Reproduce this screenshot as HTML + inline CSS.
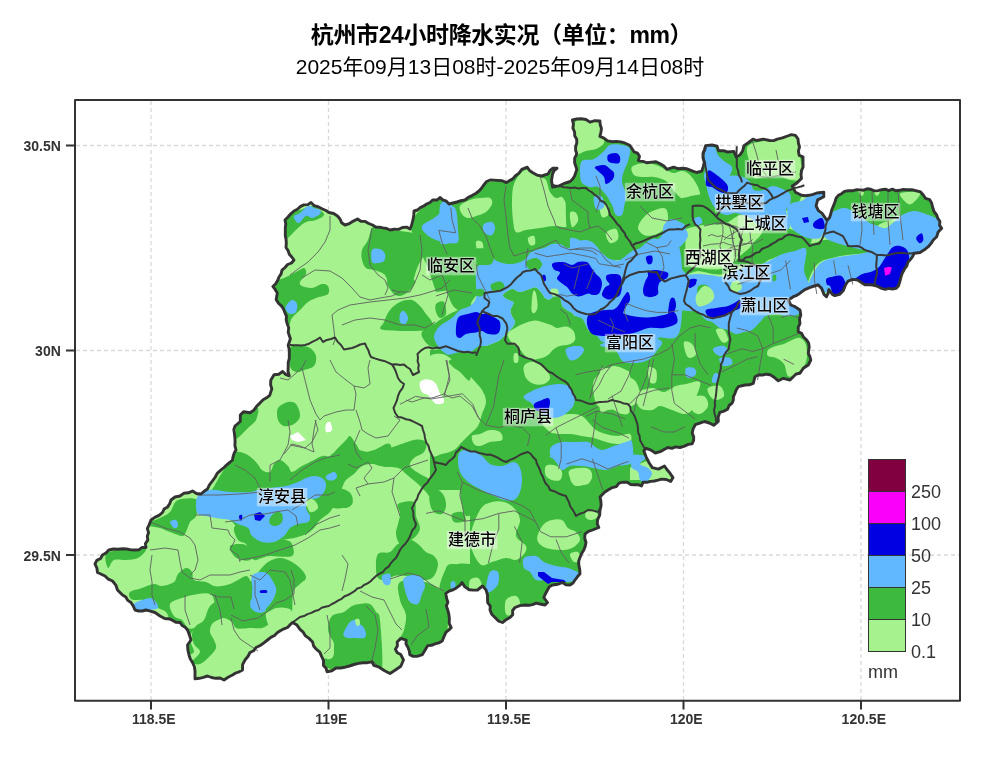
<!DOCTYPE html>
<html><head><meta charset="utf-8"><style>
html,body{margin:0;padding:0;background:#fff;}
body{width:1000px;height:781px;position:relative;overflow:hidden;}
.t1{position:absolute;left:0;width:1000px;text-align:center;top:19.5px;font:bold 23px/30px "Liberation Sans","Noto Sans CJK SC",sans-serif;color:#000;letter-spacing:-0.4px;margin-left:1.5px;}
.t2{position:absolute;left:0;width:1000px;text-align:center;top:53.5px;font:21px/26px "Liberation Sans","Noto Sans CJK SC",sans-serif;color:#000;}
.lb{position:absolute;width:100px;text-align:center;font:500 16px/20px "Liberation Sans","Noto Sans CJK SC",sans-serif;color:#000;}
.lb span{display:inline-block;line-height:17px;padding:0 0.5px 1px;background:rgba(255,255,255,.42);box-shadow:0 0 1.5px 0.5px rgba(255,255,255,.42);text-shadow:0 0 1px #fff,0 0 2px rgba(255,255,255,.9);}
</style></head><body>
<svg width="1000" height="781" viewBox="0 0 1000 781" style="position:absolute;left:0;top:0">
<defs><clipPath id="cl"><path d="M95 564 L96.8 560.4 L100.6 558.5 L102.5 555 L106 553 L108.8 550 L113.3 549 L117.9 549.2 L122.5 548.8 L126.7 549 L130.8 549.9 L135 550 L138.8 549.8 L142.1 547.4 L146 547.5 L145.4 543.6 L147.8 540.1 L147.3 536.2 L148.6 532.6 L147.3 528.6 L149 525 L151 520 L154.8 517.4 L159 515.4 L162.5 512.5 L164.1 509 L167.6 506.9 L169.7 503.7 L171 500 L175 497 L180 496 L183.7 493.3 L188.4 492.8 L192.5 491 L196.4 493.5 L201 494 L204.1 491.3 L207.5 489 L209.4 484.8 L212.3 481.2 L215 477.5 L217.2 473.4 L220.5 470.4 L224 467.5 L226.7 464.9 L229.7 462.5 L232.5 460 L233.1 456.5 L234.2 453.1 L236 450 L234.9 445.7 L235.1 441.3 L234.8 437 L234.4 433.3 L233.8 429.6 L235 426 L240.3 421.5 L240.3 415 L243.5 411.7 L250.1 412.8 L253.9 410.1 L256.6 406.3 L259.9 403.1 L263.1 399.7 L266.6 397.8 L269.7 395.4 L271.8 388.9 L270.6 384.6 L270.8 380.2 L274 374.7 L278.8 374.2 L282.7 371.4 L285.5 374.3 L289.3 375.8 L288 371.5 L288.2 367.1 L288.2 362.7 L289.3 358.4 L289.3 354 L289.3 349.6 L288.2 345.3 L290.4 338.8 L288.2 332.3 L288.7 327.8 L287.1 323.5 L286.2 319.9 L286.4 316.1 L284.9 312.7 L283.6 309.2 L281.6 306.1 L278.5 303.2 L276.2 299.6 L277.3 293.1 L275.3 289.7 L272.9 286.5 L275.7 283.8 L277.6 280.6 L279 277 L281.1 273.9 L282 270.1 L285 267.5 L287.6 264.5 L291.5 263 L294 260 L291.8 257 L289.3 254.2 L288.1 250.6 L286 247.5 L286.3 243.6 L286.1 239.6 L285.3 235.7 L285.3 231.8 L285.3 227.9 L285.8 223.9 L285 220 L288 217 L290.8 213.8 L294 211 L297.4 209.3 L300.3 206.6 L303.7 204.9 L307.8 204.6 L311 202.5 L314.3 205.7 L318.6 207 L322.5 209 L325.9 210.5 L329 212.5 L333.6 213.5 L337.5 216 L340 219 L341.6 222.7 L345 225 L349.4 223.6 L353.4 221.1 L357.5 219 L360.9 221.3 L365.2 221.4 L368.7 223.5 L372.5 225 L375.7 227 L379.4 227.2 L383 227.9 L386.7 228.5 L390 230 L394.2 229.3 L398.5 229.4 L402.5 227.5 L406.5 227.1 L410 229 L411.5 225.5 L412.4 222 L413.3 218.4 L413.8 214.7 L414 211 L417.5 210 L420.4 207.6 L423.7 206 L426.7 204 L430 202.5 L432.9 199.9 L437.1 200 L440 197.5 L442.9 199.8 L446.4 201.2 L449 204 L453 203 L457 202 L460.9 200.7 L465 200 L468.3 197.4 L472 195.6 L475.7 193.5 L479 191 L481.7 188 L484 184.6 L486.6 181.5 L490.2 180 L493.9 180.1 L497.6 180.4 L502.2 180.7 L506.4 182.6 L509.5 180.6 L512.8 178.9 L515.2 176 L519 173.2 L521.8 169.4 L527.3 167.2 L529.5 170.5 L532.8 172.7 L536.9 175.1 L541.6 176 L548.2 173.8 L549.9 170.7 L552.6 168.3 L557 168.3 L554.2 170.5 L552.6 173.8 L551.5 180.4 L552.6 187 L559.2 185.9 L563.6 183.7 L570.2 181.5 L572.7 179 L574.6 176 L576.8 169.4 L574.6 162.8 L574.7 158.2 L576.8 154 L575.6 150.3 L575.6 146.7 L576.8 143 L576.7 139.2 L574.7 135.8 L574.6 132 L572.9 128.1 L573.4 123.9 L572.4 119.9 L576.8 119 L581.2 118.8 L586 119.5 L590 122.1 L594.9 120.7 L599.9 121 L600.2 124.7 L601.4 128.3 L601 132 L599.9 136.4 L604 138.1 L607.6 140.8 L612 141.7 L616.4 141.4 L620.8 141.9 L625.3 143.2 L629.6 145.2 L631.9 148.5 L634 151.8 L637.5 153.1 L639.5 156.2 L638.4 160.6 L642.9 161.4 L647.2 162.8 L651.6 162.1 L656 161.7 L660.1 163.7 L663.9 166.1 L667 169.4 L673.6 167.2 L677.9 168.7 L682.4 168.3 L686.4 168.7 L692.8 171.2 L696.6 172.5 L701.8 171.2 L703.1 166.8 L704.3 162.3 L703 157.9 L703 153.3 L704.5 149.5 L705.6 145.6 L712 145 L717.1 146.2 L718.4 150.7 L723.5 150.7 L727.4 152 L733.8 151.4 L736.3 157.1 L740.2 154.6 L742.7 150.7 L744 145.6 L747.9 143 L753 139.2 L756.8 140.5 L763.2 139.2 L769.6 140.5 L773.6 140.6 L777.3 139.2 L782.4 137.9 L787.6 136 L791.4 134.6 L795.4 135.4 L798 138.8 L798.4 143 L799.5 147 L798.4 151.2 L799.2 155.3 L803 156.9 L803 163 L803.1 167 L801.5 170.7 L801 174.6 L801.5 178.4 L796.9 183 L792.3 186 L795.4 192.2 L801.5 195.3 L805.4 195.7 L809.2 195.3 L813.1 194.3 L816.9 193 L823.8 192.2 L823.8 196.8 L817.6 199.9 L816.1 206 L818.4 210.6 L821.9 213.2 L824.5 216.8 L827 220.5 L829.6 217.5 L830.8 213.8 L831.7 210 L833.4 205.9 L835 201.7 L836.1 198.2 L838.4 195.3 L841.6 193.7 L844.5 191.4 L848.3 190.8 L852.2 190.8 L856 189.8 L859.9 189.9 L863.5 190.2 L867.2 188.8 L870.8 189.3 L874.4 190.9 L878.1 190.6 L881.7 189.7 L885.3 189.2 L888.8 190.6 L892.4 189.2 L896 190.8 L899.6 190.3 L903.1 189.5 L906.7 189.7 L911.8 189.7 L916.7 190.8 L920.6 191.9 L923.3 195 L925.5 198.4 L929.7 199.7 L931.7 203.3 L932.7 207.5 L934 211.5 L936.7 215 L937.8 218.4 L939.9 221.4 L939.6 225.3 L941.7 228.3 L938.2 231.9 L936.7 236.7 L933.5 239.7 L931.1 243.4 L928.3 246.7 L924.3 249.8 L920 252.5 L914.2 253.3 L912.4 256.8 L910 260 L908 262 L906.8 265.9 L904.4 269.2 L902.2 273.2 L900.8 277.6 L899.8 281.8 L898.4 286 L896 288.4 L892.4 289.1 L888.8 288.4 L885.2 289.3 L881.6 288.4 L876.8 286 L873.3 285 L869.6 284.8 L864.8 284.8 L861.2 282.4 L857.6 280 L852.8 279.4 L848 281.2 L845.6 284.8 L843.2 290.8 L839.6 294.4 L834.8 295.6 L832.4 294.4 L828.8 289.6 L828.1 293.4 L826.4 296.8 L824 294.4 L821.6 288.4 L818 284.8 L814.4 286 L810.8 287.2 L804.8 289.6 L800 293.2 L796.8 295.3 L793.3 296.7 L788.3 300 L790.8 305 L795 306.7 L800 310 L800.8 315 L799.5 319.1 L800 323.3 L798.2 327.3 L798.3 331.7 L801.6 333.4 L803.3 336.7 L806.7 340 L808.6 343.1 L809.2 346.7 L808.3 353.3 L809.9 356.5 L810.8 360 L808.3 365 L803.3 368.3 L800 373.3 L796.1 374 L793.3 376.7 L790 380 L783.3 378.3 L778.3 380.8 L773.3 376.7 L770.2 374.8 L766.7 374.2 L762.5 375 L758.3 375 L755 376.7 L753.3 383.3 L749.3 384.8 L745 385 L738.3 386.7 L736.3 389.8 L735 393.3 L733.4 396.6 L733.3 400.2 L732.2 403 L729.1 405.5 L727.6 409.2 L723.9 411.1 L719.9 412.3 L718.2 416.7 L718.3 421.5 L713.7 425.3 L709.3 423 L704.5 421.5 L699.9 423.1 L695.3 424.6 L693 429.2 L692.2 433.2 L693.7 436.9 L693.6 440.5 L692.2 443.8 L688.2 444.4 L684.5 446.1 L680 447.5 L675.3 446.9 L671.9 448.4 L667.9 447.5 L664.5 449.2 L660.2 451.7 L655.3 453 L651 450.1 L646.1 448.4 L643.8 450.7 L646.1 456.8 L649.2 463 L652.3 467.6 L658.4 469.1 L664.5 466 L666.7 469.2 L669.2 472.2 L673 477.6 L670.7 481.4 L666.3 479.5 L661.5 479.1 L658 480.2 L654.4 481 L650.7 481.4 L646.9 482.3 L643 482.2 L641.5 486 L638 484.6 L634.3 484.8 L630.7 484.5 L627.2 482.3 L623 482.2 L619 483.2 L616.3 486.6 L612.3 487.6 L608.4 489.8 L604.6 492.2 L600 497 L600.9 501.3 L601.1 505.7 L600 510 L599.7 515.2 L597.5 520 L597.3 523.9 L598.8 527.5 L592.5 530 L588.4 531.4 L585 534 L584.7 538.3 L586 542.5 L585.2 546.4 L583.8 550 L581.6 553.6 L580 557.5 L578.7 561.1 L578.8 565 L579.7 569.3 L580 573.8 L577.4 576.8 L575 580 L573 583 L570 585 L565.9 584.7 L562.5 582.5 L557.6 584.3 L552.5 585 L549.3 586.8 L547.5 590 L545.5 593.7 L543.8 597.5 L547.5 602.5 L545 605 L540 604 L536.2 603.2 L532.5 604.6 L528.8 605.3 L525 605 L519.8 605.6 L515 607.5 L512.6 610.5 L512.7 614.7 L510 617.5 L506 619.7 L502.5 622.5 L498.2 620.8 L495 617.5 L491.7 614.3 L490 610 L490.3 606.1 L487.7 602.7 L487.5 598.9 L487.5 595 L486 589.9 L482.5 586 L477.5 590 L473.3 590.1 L469.2 589.8 L464.9 586.9 L462 582.6 L459.5 585.6 L456.4 587.9 L453 589.8 L449.1 591.1 L445.8 593.4 L446.7 598.8 L447.9 602.3 L446.3 606.1 L447.6 609.6 L448.8 614 L449.4 618.6 L449.2 623.3 L451.2 627.6 L449.4 629.4 L445.9 632.4 L444 636.6 L442.2 641 L438.8 642.9 L435 643.8 L431.5 645.3 L427.8 645.6 L425.1 650.1 L422.4 654.6 L417 656.4 L413.2 656.4 L409.8 654.6 L409.3 650.9 L408 647.4 L406 644.1 L406.2 640.2 L400.8 638.4 L397.2 642 L397.4 645.9 L395.4 649.2 L397.3 652.7 L400.8 654.6 L403.5 660 L400.8 666.3 L395.4 670 L390 673.5 L384.6 670.8 L379.2 667.2 L373.8 665.4 L372 661.8 L367.5 662.7 L363 662.7 L358.5 663.4 L354 664.5 L349.5 666 L345 667.2 L340.5 668 L336 668 L331.9 670.8 L327 671.7 L326.1 668.1 L323.4 665.4 L323.6 660.7 L321.6 656.4 L319.8 652.1 L316.2 649.2 L313.6 646 L312.6 642 L309 638.4 L305.5 635.9 L303.2 632.2 L300 629.4 L297 625.1 L292.5 622.5 L289.9 624.9 L287.5 627.5 L284 628.8 L280.7 630.5 L277.5 632.5 L274.5 635.5 L270.8 637.4 L267.5 640 L263.9 642.9 L260.2 645.5 L256 647.5 L253.6 650.8 L250 652.5 L247.9 656.5 L245 660 L242.6 664.7 L242.5 670 L239.2 671.8 L235.7 673 L232.5 675 L228.1 677.2 L224 680 L220.1 678 L215.7 678.3 L211.5 677.5 L207.5 676 L203.4 677.3 L199.3 678.3 L195 678.8 L195 675 L195 670.7 L194.3 666.5 L192.5 662.5 L190.3 659 L189 655 L187.9 650.1 L187.5 645 L191 640 L189.9 636.6 L188.8 633.3 L187.5 630 L185.2 627.3 L182.1 625.4 L180 622.5 L176.3 622.4 L173.1 620.7 L170 619 L164.7 618.5 L160 616 L155 612.5 L150.5 611.1 L146 610 L142.3 611 L138.7 611 L135 610 L133.3 606.1 L131 602.5 L127.8 600.4 L125.8 597 L122.5 595 L120 592.5 L117.5 590 L115.8 585.1 L112.5 581 L108.3 579.2 L105 576 L101.3 574.2 L97.5 572.5 L96.9 568.1Z"/></clipPath></defs>
<path d="M151 101V700 M328.5 101V700 M506 101V700 M683.5 101V700 M861 101V700 M76 145.5H959 M76 350.5H959 M76 555H959" stroke="#d9d9d9" stroke-width="1.3" stroke-dasharray="4 3" fill="none"/>
<path d="M95 564 L96.8 560.4 L100.6 558.5 L102.5 555 L106 553 L108.8 550 L113.3 549 L117.9 549.2 L122.5 548.8 L126.7 549 L130.8 549.9 L135 550 L138.8 549.8 L142.1 547.4 L146 547.5 L145.4 543.6 L147.8 540.1 L147.3 536.2 L148.6 532.6 L147.3 528.6 L149 525 L151 520 L154.8 517.4 L159 515.4 L162.5 512.5 L164.1 509 L167.6 506.9 L169.7 503.7 L171 500 L175 497 L180 496 L183.7 493.3 L188.4 492.8 L192.5 491 L196.4 493.5 L201 494 L204.1 491.3 L207.5 489 L209.4 484.8 L212.3 481.2 L215 477.5 L217.2 473.4 L220.5 470.4 L224 467.5 L226.7 464.9 L229.7 462.5 L232.5 460 L233.1 456.5 L234.2 453.1 L236 450 L234.9 445.7 L235.1 441.3 L234.8 437 L234.4 433.3 L233.8 429.6 L235 426 L240.3 421.5 L240.3 415 L243.5 411.7 L250.1 412.8 L253.9 410.1 L256.6 406.3 L259.9 403.1 L263.1 399.7 L266.6 397.8 L269.7 395.4 L271.8 388.9 L270.6 384.6 L270.8 380.2 L274 374.7 L278.8 374.2 L282.7 371.4 L285.5 374.3 L289.3 375.8 L288 371.5 L288.2 367.1 L288.2 362.7 L289.3 358.4 L289.3 354 L289.3 349.6 L288.2 345.3 L290.4 338.8 L288.2 332.3 L288.7 327.8 L287.1 323.5 L286.2 319.9 L286.4 316.1 L284.9 312.7 L283.6 309.2 L281.6 306.1 L278.5 303.2 L276.2 299.6 L277.3 293.1 L275.3 289.7 L272.9 286.5 L275.7 283.8 L277.6 280.6 L279 277 L281.1 273.9 L282 270.1 L285 267.5 L287.6 264.5 L291.5 263 L294 260 L291.8 257 L289.3 254.2 L288.1 250.6 L286 247.5 L286.3 243.6 L286.1 239.6 L285.3 235.7 L285.3 231.8 L285.3 227.9 L285.8 223.9 L285 220 L288 217 L290.8 213.8 L294 211 L297.4 209.3 L300.3 206.6 L303.7 204.9 L307.8 204.6 L311 202.5 L314.3 205.7 L318.6 207 L322.5 209 L325.9 210.5 L329 212.5 L333.6 213.5 L337.5 216 L340 219 L341.6 222.7 L345 225 L349.4 223.6 L353.4 221.1 L357.5 219 L360.9 221.3 L365.2 221.4 L368.7 223.5 L372.5 225 L375.7 227 L379.4 227.2 L383 227.9 L386.7 228.5 L390 230 L394.2 229.3 L398.5 229.4 L402.5 227.5 L406.5 227.1 L410 229 L411.5 225.5 L412.4 222 L413.3 218.4 L413.8 214.7 L414 211 L417.5 210 L420.4 207.6 L423.7 206 L426.7 204 L430 202.5 L432.9 199.9 L437.1 200 L440 197.5 L442.9 199.8 L446.4 201.2 L449 204 L453 203 L457 202 L460.9 200.7 L465 200 L468.3 197.4 L472 195.6 L475.7 193.5 L479 191 L481.7 188 L484 184.6 L486.6 181.5 L490.2 180 L493.9 180.1 L497.6 180.4 L502.2 180.7 L506.4 182.6 L509.5 180.6 L512.8 178.9 L515.2 176 L519 173.2 L521.8 169.4 L527.3 167.2 L529.5 170.5 L532.8 172.7 L536.9 175.1 L541.6 176 L548.2 173.8 L549.9 170.7 L552.6 168.3 L557 168.3 L554.2 170.5 L552.6 173.8 L551.5 180.4 L552.6 187 L559.2 185.9 L563.6 183.7 L570.2 181.5 L572.7 179 L574.6 176 L576.8 169.4 L574.6 162.8 L574.7 158.2 L576.8 154 L575.6 150.3 L575.6 146.7 L576.8 143 L576.7 139.2 L574.7 135.8 L574.6 132 L572.9 128.1 L573.4 123.9 L572.4 119.9 L576.8 119 L581.2 118.8 L586 119.5 L590 122.1 L594.9 120.7 L599.9 121 L600.2 124.7 L601.4 128.3 L601 132 L599.9 136.4 L604 138.1 L607.6 140.8 L612 141.7 L616.4 141.4 L620.8 141.9 L625.3 143.2 L629.6 145.2 L631.9 148.5 L634 151.8 L637.5 153.1 L639.5 156.2 L638.4 160.6 L642.9 161.4 L647.2 162.8 L651.6 162.1 L656 161.7 L660.1 163.7 L663.9 166.1 L667 169.4 L673.6 167.2 L677.9 168.7 L682.4 168.3 L686.4 168.7 L692.8 171.2 L696.6 172.5 L701.8 171.2 L703.1 166.8 L704.3 162.3 L703 157.9 L703 153.3 L704.5 149.5 L705.6 145.6 L712 145 L717.1 146.2 L718.4 150.7 L723.5 150.7 L727.4 152 L733.8 151.4 L736.3 157.1 L740.2 154.6 L742.7 150.7 L744 145.6 L747.9 143 L753 139.2 L756.8 140.5 L763.2 139.2 L769.6 140.5 L773.6 140.6 L777.3 139.2 L782.4 137.9 L787.6 136 L791.4 134.6 L795.4 135.4 L798 138.8 L798.4 143 L799.5 147 L798.4 151.2 L799.2 155.3 L803 156.9 L803 163 L803.1 167 L801.5 170.7 L801 174.6 L801.5 178.4 L796.9 183 L792.3 186 L795.4 192.2 L801.5 195.3 L805.4 195.7 L809.2 195.3 L813.1 194.3 L816.9 193 L823.8 192.2 L823.8 196.8 L817.6 199.9 L816.1 206 L818.4 210.6 L821.9 213.2 L824.5 216.8 L827 220.5 L829.6 217.5 L830.8 213.8 L831.7 210 L833.4 205.9 L835 201.7 L836.1 198.2 L838.4 195.3 L841.6 193.7 L844.5 191.4 L848.3 190.8 L852.2 190.8 L856 189.8 L859.9 189.9 L863.5 190.2 L867.2 188.8 L870.8 189.3 L874.4 190.9 L878.1 190.6 L881.7 189.7 L885.3 189.2 L888.8 190.6 L892.4 189.2 L896 190.8 L899.6 190.3 L903.1 189.5 L906.7 189.7 L911.8 189.7 L916.7 190.8 L920.6 191.9 L923.3 195 L925.5 198.4 L929.7 199.7 L931.7 203.3 L932.7 207.5 L934 211.5 L936.7 215 L937.8 218.4 L939.9 221.4 L939.6 225.3 L941.7 228.3 L938.2 231.9 L936.7 236.7 L933.5 239.7 L931.1 243.4 L928.3 246.7 L924.3 249.8 L920 252.5 L914.2 253.3 L912.4 256.8 L910 260 L908 262 L906.8 265.9 L904.4 269.2 L902.2 273.2 L900.8 277.6 L899.8 281.8 L898.4 286 L896 288.4 L892.4 289.1 L888.8 288.4 L885.2 289.3 L881.6 288.4 L876.8 286 L873.3 285 L869.6 284.8 L864.8 284.8 L861.2 282.4 L857.6 280 L852.8 279.4 L848 281.2 L845.6 284.8 L843.2 290.8 L839.6 294.4 L834.8 295.6 L832.4 294.4 L828.8 289.6 L828.1 293.4 L826.4 296.8 L824 294.4 L821.6 288.4 L818 284.8 L814.4 286 L810.8 287.2 L804.8 289.6 L800 293.2 L796.8 295.3 L793.3 296.7 L788.3 300 L790.8 305 L795 306.7 L800 310 L800.8 315 L799.5 319.1 L800 323.3 L798.2 327.3 L798.3 331.7 L801.6 333.4 L803.3 336.7 L806.7 340 L808.6 343.1 L809.2 346.7 L808.3 353.3 L809.9 356.5 L810.8 360 L808.3 365 L803.3 368.3 L800 373.3 L796.1 374 L793.3 376.7 L790 380 L783.3 378.3 L778.3 380.8 L773.3 376.7 L770.2 374.8 L766.7 374.2 L762.5 375 L758.3 375 L755 376.7 L753.3 383.3 L749.3 384.8 L745 385 L738.3 386.7 L736.3 389.8 L735 393.3 L733.4 396.6 L733.3 400.2 L732.2 403 L729.1 405.5 L727.6 409.2 L723.9 411.1 L719.9 412.3 L718.2 416.7 L718.3 421.5 L713.7 425.3 L709.3 423 L704.5 421.5 L699.9 423.1 L695.3 424.6 L693 429.2 L692.2 433.2 L693.7 436.9 L693.6 440.5 L692.2 443.8 L688.2 444.4 L684.5 446.1 L680 447.5 L675.3 446.9 L671.9 448.4 L667.9 447.5 L664.5 449.2 L660.2 451.7 L655.3 453 L651 450.1 L646.1 448.4 L643.8 450.7 L646.1 456.8 L649.2 463 L652.3 467.6 L658.4 469.1 L664.5 466 L666.7 469.2 L669.2 472.2 L673 477.6 L670.7 481.4 L666.3 479.5 L661.5 479.1 L658 480.2 L654.4 481 L650.7 481.4 L646.9 482.3 L643 482.2 L641.5 486 L638 484.6 L634.3 484.8 L630.7 484.5 L627.2 482.3 L623 482.2 L619 483.2 L616.3 486.6 L612.3 487.6 L608.4 489.8 L604.6 492.2 L600 497 L600.9 501.3 L601.1 505.7 L600 510 L599.7 515.2 L597.5 520 L597.3 523.9 L598.8 527.5 L592.5 530 L588.4 531.4 L585 534 L584.7 538.3 L586 542.5 L585.2 546.4 L583.8 550 L581.6 553.6 L580 557.5 L578.7 561.1 L578.8 565 L579.7 569.3 L580 573.8 L577.4 576.8 L575 580 L573 583 L570 585 L565.9 584.7 L562.5 582.5 L557.6 584.3 L552.5 585 L549.3 586.8 L547.5 590 L545.5 593.7 L543.8 597.5 L547.5 602.5 L545 605 L540 604 L536.2 603.2 L532.5 604.6 L528.8 605.3 L525 605 L519.8 605.6 L515 607.5 L512.6 610.5 L512.7 614.7 L510 617.5 L506 619.7 L502.5 622.5 L498.2 620.8 L495 617.5 L491.7 614.3 L490 610 L490.3 606.1 L487.7 602.7 L487.5 598.9 L487.5 595 L486 589.9 L482.5 586 L477.5 590 L473.3 590.1 L469.2 589.8 L464.9 586.9 L462 582.6 L459.5 585.6 L456.4 587.9 L453 589.8 L449.1 591.1 L445.8 593.4 L446.7 598.8 L447.9 602.3 L446.3 606.1 L447.6 609.6 L448.8 614 L449.4 618.6 L449.2 623.3 L451.2 627.6 L449.4 629.4 L445.9 632.4 L444 636.6 L442.2 641 L438.8 642.9 L435 643.8 L431.5 645.3 L427.8 645.6 L425.1 650.1 L422.4 654.6 L417 656.4 L413.2 656.4 L409.8 654.6 L409.3 650.9 L408 647.4 L406 644.1 L406.2 640.2 L400.8 638.4 L397.2 642 L397.4 645.9 L395.4 649.2 L397.3 652.7 L400.8 654.6 L403.5 660 L400.8 666.3 L395.4 670 L390 673.5 L384.6 670.8 L379.2 667.2 L373.8 665.4 L372 661.8 L367.5 662.7 L363 662.7 L358.5 663.4 L354 664.5 L349.5 666 L345 667.2 L340.5 668 L336 668 L331.9 670.8 L327 671.7 L326.1 668.1 L323.4 665.4 L323.6 660.7 L321.6 656.4 L319.8 652.1 L316.2 649.2 L313.6 646 L312.6 642 L309 638.4 L305.5 635.9 L303.2 632.2 L300 629.4 L297 625.1 L292.5 622.5 L289.9 624.9 L287.5 627.5 L284 628.8 L280.7 630.5 L277.5 632.5 L274.5 635.5 L270.8 637.4 L267.5 640 L263.9 642.9 L260.2 645.5 L256 647.5 L253.6 650.8 L250 652.5 L247.9 656.5 L245 660 L242.6 664.7 L242.5 670 L239.2 671.8 L235.7 673 L232.5 675 L228.1 677.2 L224 680 L220.1 678 L215.7 678.3 L211.5 677.5 L207.5 676 L203.4 677.3 L199.3 678.3 L195 678.8 L195 675 L195 670.7 L194.3 666.5 L192.5 662.5 L190.3 659 L189 655 L187.9 650.1 L187.5 645 L191 640 L189.9 636.6 L188.8 633.3 L187.5 630 L185.2 627.3 L182.1 625.4 L180 622.5 L176.3 622.4 L173.1 620.7 L170 619 L164.7 618.5 L160 616 L155 612.5 L150.5 611.1 L146 610 L142.3 611 L138.7 611 L135 610 L133.3 606.1 L131 602.5 L127.8 600.4 L125.8 597 L122.5 595 L120 592.5 L117.5 590 L115.8 585.1 L112.5 581 L108.3 579.2 L105 576 L101.3 574.2 L97.5 572.5 L96.9 568.1Z" fill="#a6f28f"/>
<g clip-path="url(#cl)">
<path d="M430 350 L500 345 L630 345 L630 490 L430 490Z" fill="#3dba3d"/>
<path d="M470 490 L600 480 L680 480 L680 620 L470 620Z" fill="#3dba3d"/>
<path d="M452 248 L480 246 L480 290 L470 304 L458 304 L450 284Z" fill="#3dba3d"/>
<path d="M424 238 L452 240 L456 262 L450 290 L436 292 L428 268 L422 255Z" fill="#3dba3d"/>
<path d="M280 218 C283.7 214.3 294.7 212 300 210 C305.3 208 308 205.3 312 206 C316 206.7 323.3 211.7 324 214 C324.7 216.3 319 218.7 316 220 C313 221.3 309 220.7 306 222 C303 223.3 300.7 225.7 298 228 C295.3 230.3 292.3 234 290 236 C287.7 238 286 240.7 284 240 C282 239.3 278.7 235.7 278 232 C277.3 228.3 276.3 221.7 280 218Z" fill="#3dba3d"/>
<path d="M362 250 C363 246.7 366.3 243.7 368 240 C369.7 236.3 370 230.2 372 228 C374 225.8 377 226.7 380 227 C383 227.3 386.7 229.3 390 230 C393.3 230.7 397 230.7 400 231 C403 231.3 405 231.5 408 232 C411 232.5 415.3 233 418 234 C420.7 235 423 234.7 424 238 C425 241.3 425 249.3 424 254 C423 258.7 419.7 262 418 266 C416.3 270 415 274.3 414 278 C413 281.7 413.3 285.7 412 288 C410.7 290.3 408.3 291.3 406 292 C403.7 292.7 400.3 292.3 398 292 C395.7 291.7 393.7 291.7 392 290 C390.3 288.3 389.3 284.7 388 282 C386.7 279.3 386.3 276 384 274 C381.7 272 377 271 374 270 C371 269 368 269.7 366 268 C364 266.3 362.7 263 362 260 C361.3 257 361 253.3 362 250Z" fill="#3dba3d"/>
<path d="M412 222 C413.3 218.3 416 213.7 420 210 C424 206.3 431.3 202.3 436 200 C440.7 197.7 443.7 196 448 196 C452.3 196 458.3 196.8 462 200 C465.7 203.2 468.7 206.7 470 215 C471.3 223.3 473 243.5 470 250 C467 256.5 457 253.3 452 254 C447 254.7 444 256 440 254 C436 252 431.3 245 428 242 C424.7 239 422.7 237.7 420 236 C417.3 234.3 413.3 234.3 412 232 C410.7 229.7 410.7 225.7 412 222Z" fill="#3dba3d"/>
<path d="M270 284 C272 280.7 279.7 280 284 278 C288.3 276 292.7 273.7 296 272 C299.3 270.3 302.3 267.7 304 268 C305.7 268.3 306.7 271.7 306 274 C305.3 276.3 300.7 280 300 282 C299.3 284 300 285 302 286 C304 287 308.7 288.3 312 288 C315.3 287.7 319.3 284.3 322 284 C324.7 283.7 327 284.3 328 286 C329 287.7 330 292 328 294 C326 296 319.3 296.7 316 298 C312.7 299.3 310.7 300 308 302 C305.3 304 302.7 307.3 300 310 C297.3 312.7 294 315.3 292 318 C290 320.7 290.7 324.7 288 326 C285.3 327.3 278.7 330.7 276 326 C273.3 321.3 273 305 272 298 C271 291 268 287.3 270 284Z" fill="#3dba3d"/>
<path d="M384 322 C385 318.7 387.3 313.3 390 310 C392.7 306.7 396.3 303.7 400 302 C403.7 300.3 408.7 299.3 412 300 C415.3 300.7 417.7 303.7 420 306 C422.3 308.3 424 311.3 426 314 C428 316.7 431 319.3 432 322 C433 324.7 440 328.7 432 330 C424 331.3 392 331.3 384 330 C376 328.7 383 325.3 384 322Z" fill="#3dba3d"/>
<path d="M440 200 C442 186.7 447.7 197.7 452 196 C456.3 194.3 461.3 192 466 190 C470.7 188 474.3 185.7 480 184 C485.7 182.3 494.2 181.3 500 180 C505.8 178.7 510.3 178.3 515 176 C519.7 173.7 523 166.7 528 166 C533 165.3 540.3 171.3 545 172 C549.7 172.7 554.2 167.7 556 170 C557.8 172.3 553.3 184.3 556 186 C558.7 187.7 568.3 184 572 180 C575.7 176 573.3 165.3 578 162 C582.7 158.7 589.7 160.3 600 160 C610.3 159.7 633.3 145 640 160 C646.7 175 646.7 234 640 250 C633.3 266 613.3 256 600 256 C586.7 256 576.7 249 560 250 C543.3 251 515 258.3 500 262 C485 265.7 480 269.7 470 272 C460 274.3 445 288 440 276 C435 264 438 213.3 440 200Z" fill="#3dba3d"/>
<path d="M514 184 C515.7 179.3 519.3 174.3 522 172 C524.7 169.7 527 169.2 530 170 C533 170.8 537.3 175.3 540 177 C542.7 178.7 544.3 177.5 546 180 C547.7 182.5 548.3 189 550 192 C551.7 195 554 197.2 556 198 C558 198.8 560 195.7 562 197 C564 198.3 565.3 202.8 568 206 C570.7 209.2 576.7 212.8 578 216 C579.3 219.2 578 223.2 576 225 C574 226.8 569.7 226.8 566 227 C562.3 227.2 558.3 225.8 554 226 C549.7 226.2 544.7 227.3 540 228 C535.3 228.7 530 229.3 526 230 C522 230.7 518.2 233.7 516 232 C513.8 230.3 513.7 225.3 513 220 C512.3 214.7 511.8 206 512 200 C512.2 194 512.3 188.7 514 184Z" fill="#a6f28f"/>
<path d="M460 206 C461.3 203.7 466.7 201.3 470 200 C473.3 198.7 476.7 198.3 480 198 C483.3 197.7 488 197 490 198 C492 199 492.7 201.7 492 204 C491.3 206.3 488.7 210 486 212 C483.3 214 479 215 476 216 C473 217 470.3 218.3 468 218 C465.7 217.7 463.3 216 462 214 C460.7 212 458.7 208.3 460 206Z" fill="#a6f28f"/>
<path d="M476 242 C476.7 240.3 480.8 240.7 482 242 C483.2 243.3 483.7 248.3 483 250 C482.3 251.7 479.2 253.3 478 252 C476.8 250.7 475.3 243.7 476 242Z" fill="#a6f28f"/>
<path d="M528 238 C528.7 236.5 532.8 235 534 236 C535.2 237 535.7 242.5 535 244 C534.3 245.5 531.2 246 530 245 C528.8 244 527.3 239.5 528 238Z" fill="#a6f28f"/>
<path d="M598 208 C599 206.3 604.3 205 606 206 C607.7 207 609 212.3 608 214 C607 215.7 601.7 217 600 216 C598.3 215 597 209.7 598 208Z" fill="#a6f28f"/>
<path d="M606 228 C607.3 225.7 613.7 224.7 616 226 C618.3 227.3 620 233.3 620 236 C620 238.7 618 241.3 616 242 C614 242.7 609.7 242.3 608 240 C606.3 237.7 604.7 230.3 606 228Z" fill="#a6f28f"/>
<path d="M572 118 C577.3 96 590.7 114.3 602 118 C613.3 121.7 623.7 135.5 640 140 C656.3 144.5 673.3 145.8 700 145 C726.7 144.2 783.3 125.8 800 135 C816.7 144.2 806.7 186.7 800 200 C793.3 213.3 776.7 212.5 760 215 C743.3 217.5 713.3 209.2 700 215 C686.7 220.8 693.3 242.5 680 250 C666.7 257.5 638.3 260 620 260 C601.7 260 578 273.7 570 250 C562 226.3 566.7 140 572 118Z" fill="#3dba3d"/>
<path d="M576 121 C580 117.3 595.7 120.7 600 123 C604.3 125.3 601.3 131.7 602 135 C602.7 138.3 605 140.7 604 143 C603 145.3 599 147.7 596 149 C593 150.3 589 150 586 151 C583 152 580 153 578 155 C576 157 574.3 164.7 574 163 C573.7 161.3 575.7 152 576 145 C576.3 138 572 124.7 576 121Z" fill="#a6f28f"/>
<path d="M632 167 C633.7 165 640 163.3 644 163 C648 162.7 652 163.7 656 165 C660 166.3 665 169.7 668 171 C671 172.3 671.7 173 674 173 C676.3 173 679.3 170.7 682 171 C684.7 171.3 687.3 172.3 690 175 C692.7 177.7 696.3 183 698 187 C699.7 191 701.3 196.3 700 199 C698.7 201.7 693 203 690 203 C687 203 684.7 201 682 199 C679.3 197 676.7 194 674 191 C671.3 188 669.3 183.3 666 181 C662.7 178.7 658 177.7 654 177 C650 176.3 645.3 177.3 642 177 C638.7 176.7 635.7 176.7 634 175 C632.3 173.3 630.3 169 632 167Z" fill="#a6f28f"/>
<path d="M638 227 C638.3 223.7 642.7 218 646 215 C649.3 212 654.7 210 658 209 C661.3 208 664.3 207.3 666 209 C667.7 210.7 668.3 215.7 668 219 C667.7 222.3 666.3 226.3 664 229 C661.7 231.7 657.3 234 654 235 C650.7 236 646.7 236.3 644 235 C641.3 233.7 637.7 230.3 638 227Z" fill="#a6f28f"/>
<path d="M570 213 C570.7 210.7 574.7 211.7 576 213 C577.3 214.3 578.7 218.7 578 221 C577.3 223.3 573.3 228.3 572 227 C570.7 225.7 569.3 215.3 570 213Z" fill="#a6f28f"/>
<path d="M600 207 C601 205 606.7 203.7 608 205 C609.3 206.3 609 213 608 215 C607 217 603.3 218.3 602 217 C600.7 215.7 599 209 600 207Z" fill="#a6f28f"/>
<path d="M606 233 C607 230.7 614 228 616 229 C618 230 619 236.7 618 239 C617 241.3 612 244 610 243 C608 242 605 235.3 606 233Z" fill="#a6f28f"/>
<path d="M718 157 C719 155.3 727.3 152.3 730 153 C732.7 153.7 734 158.3 734 161 C734 163.7 731.7 168.7 730 169 C728.3 169.3 726 165 724 163 C722 161 717 158.7 718 157Z" fill="#3dba3d"/>
<path d="M746 145 C750 141 762.7 142.2 770 141 C777.3 139.8 785.3 136.5 790 138 C794.7 139.5 798 144.7 798 150 C798 155.3 794.7 165.8 790 170 C785.3 174.2 775.3 173.5 770 175 C764.7 176.5 761.3 179 758 179 C754.7 179 752 177.3 750 175 C748 172.7 746.7 170 746 165 C745.3 160 742 149 746 145Z" fill="#a6f28f"/>
<path d="M686 231 C688 227 696 227.7 700 227 C704 226.3 706.3 227 710 227 C713.7 227 717.7 227 722 227 C726.3 227 732 226.3 736 227 C740 227.7 743.7 228.3 746 231 C748.3 233.7 750 239 750 243 C750 247 748.7 252.3 746 255 C743.3 257.7 738 259 734 259 C730 259 726 256 722 255 C718 254 714 253.7 710 253 C706 252.3 701.7 251.3 698 251 C694.3 250.7 690 254.3 688 251 C686 247.7 684 235 686 231Z" fill="#a6f28f"/>
<path d="M730 150 C735 141.3 748.3 140.7 760 138 C771.7 135.3 792.3 128.7 800 134 C807.7 139.3 806 159.7 806 170 C806 180.3 804.3 191 800 196 C795.7 201 788.3 199.3 780 200 C771.7 200.7 758.3 201.7 750 200 C741.7 198.3 733.3 198.3 730 190 C726.7 181.7 725 158.7 730 150Z" fill="#3dba3d"/>
<path d="M748 146 C751.3 142 762 141.7 770 140 C778 138.3 791 133.3 796 136 C801 138.7 799 149 800 156 C801 163 803.7 174 802 178 C800.3 182 793.7 180.3 790 180 C786.3 179.7 783.7 176.7 780 176 C776.3 175.3 772.3 175.7 768 176 C763.7 176.3 757 180 754 178 C751 176 751 169.3 750 164 C749 158.7 744.7 150 748 146Z" fill="#a6f28f"/>
<path d="M836 194 C850.7 190 902.7 184.7 920 188 C937.3 191.3 937.3 208.3 940 214 C942.7 219.7 942.7 221.7 936 222 C929.3 222.3 907.3 216.3 900 216 C892.7 215.7 895.3 218.7 892 220 C888.7 221.3 883.3 222.3 880 224 C876.7 225.7 875.3 230.7 872 230 C868.7 229.3 864.7 223 860 220 C855.3 217 848.7 213.3 844 212 C839.3 210.7 833.3 215 832 212 C830.7 209 821.3 198 836 194Z" fill="#3dba3d"/>
<path d="M900 194 C900.7 192 908.7 192 912 192 C915.3 192 919.7 192.3 920 194 C920.3 195.7 916 200.3 914 202 C912 203.7 910.3 205.3 908 204 C905.7 202.7 899.3 196 900 194Z" fill="#a6f28f"/>
<path d="M858 191 C858.3 190.2 863.3 190.2 864 191 C864.7 191.8 863 196 862 196 C861 196 857.7 191.8 858 191Z" fill="#a6f28f"/>
<path d="M874 191 C874.5 190.2 879.5 190.2 880 191 C880.5 191.8 878 196 877 196 C876 196 873.5 191.8 874 191Z" fill="#a6f28f"/>
<path d="M750 250 C753.3 244.7 764 241 770 238 C776 235 781.7 232.7 786 232 C790.3 231.3 792.7 232.3 796 234 C799.3 235.7 803 240.5 806 242 C809 243.5 811 243.3 814 243 C817 242.7 819.7 240.5 824 240 C828.3 239.5 835.3 239.7 840 240 C844.7 240.3 848 241.8 852 242 C856 242.2 860.7 240.7 864 241 C867.3 241.3 869.3 243.2 872 244 C874.7 244.8 878.7 245 880 246 C881.3 247 882 248.8 880 250 C878 251.2 873.5 252.2 868 253 C862.5 253.8 852.7 254.2 846.7 255 C840.7 255.8 836.5 256.8 832 258 C827.5 259.2 823.3 259.7 820 262 C816.7 264.3 814.3 268 812 272 C809.7 276 808 283.7 806 286 C804 288.3 801.3 288.7 800 286 C798.7 283.3 798.7 274.7 798 270 C797.3 265.3 798.3 260.7 796 258 C793.7 255.3 787.7 254.3 784 254 C780.3 253.7 778 254 774 256 C770 258 764 263.7 760 266 C756 268.3 751.7 272.7 750 270 C748.3 267.3 746.7 255.3 750 250Z" fill="#3dba3d"/>
<path d="M670 202 C672.3 199.7 678.1 199 684 197.8 C689.9 196.6 700 193.1 705.2 195 C710.4 196.9 711.6 206 715.1 209.1 C718.6 212.2 722.1 213.1 726.3 213.3 C730.5 213.5 735.7 210.7 740.4 210.5 C745.1 210.3 750.7 211 754.5 211.9 C758.3 212.8 760.6 216.6 763 216.1 C765.4 215.6 764.6 208.4 768.6 209.1 C772.6 209.8 783.4 217.1 786.9 220.4 C790.4 223.7 786 226.7 789.7 228.8 C793.5 230.9 806 230.4 809.4 233 C812.8 235.6 812.1 241.7 810 244.3 C807.9 246.9 801.3 246.8 796.8 248.5 C792.2 250.2 787.4 252.3 782.7 254.2 C778 256.1 773.3 258.4 768.6 259.8 C763.9 261.2 758.7 261.7 754.5 262.6 C750.3 263.5 746.5 264.5 743.2 265.4 C739.9 266.3 738.1 266.8 734.8 268.2 C731.5 269.6 727.2 272.9 723.5 273.9 C719.8 274.8 716.5 274.4 712.3 273.9 C708.1 273.4 702.4 271 698.2 271 C694 271 689.7 274.4 686.9 273.9 C684.1 273.4 683.2 270.5 681.3 268.2 C679.4 265.9 677.5 262.1 675.6 259.8 C673.7 257.5 670.9 257.9 670 254.2 C669.1 250.4 668.6 241.3 670 237.3 C671.4 233.3 676.1 232.5 678.5 230.2 C680.9 227.8 684.1 225.5 684.1 223.2 C684.1 220.8 680.9 218 678.5 216.1 C676.1 214.2 671.4 214.2 670 211.9 C668.6 209.6 667.7 204.3 670 202Z" fill="#3dba3d"/>
<path d="M685.5 230.2 C687.6 227.6 693.7 226.9 698.2 226 C702.7 225.1 707.6 225.1 712.3 224.6 C717 224.1 722.1 224.6 726.3 223.2 C730.5 221.8 733.8 217.5 737.6 216.1 C741.4 214.7 745.1 214.2 748.9 214.7 C752.6 215.2 757.8 216.6 760.1 218.9 C762.5 221.2 763 226 763 228.8 C763 231.6 761.5 233.7 760.1 235.8 C758.7 237.9 756.4 239.4 754.5 241.5 C752.6 243.6 751.2 246.2 748.9 248.5 C746.5 250.8 742.8 253.5 740.4 255.6 C738 257.7 737.6 259.1 734.8 261.2 C732 263.3 727.2 266.8 723.5 268.2 C719.8 269.6 716 269.6 712.3 269.6 C708.5 269.6 704.8 268.9 701 268.2 C697.2 267.5 692.3 267.7 689.7 265.4 C687.1 263.1 686.2 258.2 685.5 254.2 C684.8 250.2 685.5 245.5 685.5 241.5 C685.5 237.5 683.4 232.8 685.5 230.2Z" fill="#a6f28f"/>
<path d="M590 330 C598.3 320 628.3 340 640 340 C651.7 340 653.3 336.7 660 330 C666.7 323.3 673.3 305 680 300 C686.7 295 690 298.3 700 300 C710 301.7 726.7 310 740 310 C753.3 310 769.2 301.7 780 300 C790.8 298.3 799.7 290 805 300 C810.3 310 812.8 346.7 812 360 C811.2 373.3 812 373.3 800 380 C788 386.7 756.7 390 740 400 C723.3 410 715 430 700 440 C685 450 666.7 455 650 460 C633.3 465 610 480 600 470 C590 460 591.7 423.3 590 400 C588.3 376.7 581.7 340 590 330Z" fill="#3dba3d"/>
<path d="M600 370 C602 362.7 608 365.3 612 366 C616 366.7 620 371.3 624 374 C628 376.7 633.3 378 636 382 C638.7 386 640.7 394 640 398 C639.3 402 635.3 404.3 632 406 C628.7 407.7 624 407.3 620 408 C616 408.7 611.3 409.7 608 410 C604.7 410.3 601.3 416.7 600 410 C598.7 403.3 598 377.3 600 370Z" fill="#a6f28f"/>
<path d="M636 394 C638 390.7 647.3 388.3 652 388 C656.7 387.7 660 392.3 664 392 C668 391.7 672.3 387.3 676 386 C679.7 384.7 682 384.7 686 384 C690 383.3 698.3 379.7 700 382 C701.7 384.3 697.3 393.3 696 398 C694.7 402.7 694 407.3 692 410 C690 412.7 687.3 414 684 414 C680.7 414 676 411.3 672 410 C668 408.7 663.3 406 660 406 C656.7 406 655.3 409.7 652 410 C648.7 410.3 642.7 410.7 640 408 C637.3 405.3 634 397.3 636 394Z" fill="#a6f28f"/>
<path d="M684 342 C685 340.3 690 342 692 344 C694 346 696.3 351.7 696 354 C695.7 356.3 691.7 358 690 358 C688.3 358 687 356.7 686 354 C685 351.3 683 343.7 684 342Z" fill="#a6f28f"/>
<path d="M648 368 C649 366 654.7 367.7 656 370 C657.3 372.3 657 380 656 382 C655 384 651.3 384.3 650 382 C648.7 379.7 647 370 648 368Z" fill="#a6f28f"/>
<path d="M768 350 C769.3 348.3 773.3 347 776 346 C778.7 345 781.3 345 784 344 C786.7 343 789.3 341 792 340 C794.7 339 797.7 337.2 800 338 C802.3 338.8 805 341 806 345 C807 349 807.7 357.2 806 362 C804.3 366.8 799 371.7 796 374 C793 376.3 790 377.7 788 376 C786 374.3 786 367 784 364 C782 361 778.7 359.3 776 358 C773.3 356.7 769.3 357.3 768 356 C766.7 354.7 766.7 351.7 768 350Z" fill="#a6f28f"/>
<path d="M708 388 C709.7 386.3 717.3 384.7 720 386 C722.7 387.3 724.7 393.7 724 396 C723.3 398.3 718.3 400 716 400 C713.7 400 711.3 398 710 396 C708.7 394 706.3 389.7 708 388Z" fill="#a6f28f"/>
<path d="M692 398 C694 395.7 701.3 394.7 704 396 C706.7 397.3 708.7 403 708 406 C707.3 409 702.7 413.3 700 414 C697.3 414.7 693.3 412.7 692 410 C690.7 407.3 690 400.3 692 398Z" fill="#a6f28f"/>
<path d="M503 295 C503.8 293.2 509.2 289.5 512 289 C514.8 288.5 516.5 292 519.5 292 C522.5 292 527.2 289.8 530 289 C532.8 288.2 534 286.8 536 287.5 C538 288.2 540.5 291.8 542 293.5 C543.5 295.2 543.8 297 545 298 C546.2 299 548 299.8 549.5 299.5 C551 299.2 552.2 296.8 554 296.5 C555.8 296.2 558.5 296.2 560 298 C561.5 299.8 561 304.5 563 307 C565 309.5 570 311.5 572 313 C574 314.5 574.5 317 575 316 C575.5 315 574 309 575 307 C576 305 579 305 581 304 C583 303 586.2 300 587 301 C587.8 302 586.5 307.8 585.5 310 C584.5 312.2 581.2 312.8 581 314.5 C580.8 316.2 583 318.8 584 320.5 C585 322.2 586 322.8 587 325 C588 327.2 588.2 332 590 334 C591.8 336 595 336 597.5 337 C600 338 602.2 339 605 340 C607.8 341 611.5 341.5 614 343 C616.5 344.5 619 345 620 349 C621 353 645 364 620 367 C595 370 495 369.5 470 367 C445 364.5 468.5 355.5 470 352 C471.5 348.5 476.5 347 479 346 C481.5 345 482.5 346.5 485 346 C487.5 345.5 491.5 344 494 343 C496.5 342 498 341.5 500 340 C502 338.5 504 336 506 334 C508 332 510.5 330 512 328 C513.5 326 515 324 515 322 C515 320 512.8 318 512 316 C511.2 314 510.2 312.2 510.5 310 C510.8 307.8 514 304.2 513.5 302.5 C513 300.8 509.2 300.8 507.5 299.5 C505.8 298.2 502.2 296.8 503 295Z" fill="#3dba3d"/>
<path d="M507.5 334 C508 331.5 512.2 329.8 515 328 C517.8 326.2 520.8 324.8 524 323.5 C527.2 322.2 531.5 320.8 534.5 320.5 C537.5 320.2 539.2 321.2 542 322 C544.8 322.8 548.5 324 551 325 C553.5 326 554.5 327.8 557 328 C559.5 328.2 563.2 326 566 326.5 C568.8 327 572 328.8 573.5 331 C575 333.2 575.8 337.8 575 340 C574.2 342.2 571.5 343.5 569 344.5 C566.5 345.5 562.5 345.2 560 346 C557.5 346.8 556 347.5 554 349 C552 350.5 550 353.5 548 355 C546 356.5 544.5 357.2 542 358 C539.5 358.8 535.5 359.5 533 359.5 C530.5 359.5 529.2 359.8 527 358 C524.8 356.2 522 351.5 519.5 349 C517 346.5 514 345.5 512 343 C510 340.5 507 336.5 507.5 334Z" fill="#a6f28f"/>
<path d="M430 356 C433.7 353.3 438.7 353.7 442 354 C445.3 354.3 446.7 356 450 358 C453.3 360 458.7 363 462 366 C465.3 369 466.7 372 470 376 C473.3 380 479.3 385.7 482 390 C484.7 394.3 486 398 486 402 C486 406 483.3 410 482 414 C480.7 418 480 422.7 478 426 C476 429.3 472.7 431.3 470 434 C467.3 436.7 464.7 439.3 462 442 C459.3 444.7 457.3 448 454 450 C450.7 452 446 453.3 442 454 C438 454.7 433.7 459.7 430 454 C426.3 448.3 421.7 434 420 420 C418.3 406 418.3 380.7 420 370 C421.7 359.3 426.3 358.7 430 356Z" fill="#a6f28f"/>
<path d="M430 380 C431.7 379.3 434.3 381.7 436 384 C437.7 386.3 438.7 391 440 394 C441.3 397 444.3 400.3 444 402 C443.7 403.7 440.3 404.7 438 404 C435.7 403.3 432 400.7 430 398 C428 395.3 426 391 426 388 C426 385 428.3 380.7 430 380Z" fill="#ffffff"/>
<path d="M524 366 C525.3 363.3 530.3 361.3 534 362 C537.7 362.7 543.3 367.3 546 370 C548.7 372.7 550.3 375.7 550 378 C549.7 380.3 546.7 383 544 384 C541.3 385 537 385 534 384 C531 383 527.7 381 526 378 C524.3 375 522.7 368.7 524 366Z" fill="#a6f28f"/>
<path d="M594 380 C596 375.7 602.7 372.3 606 370 C609.3 367.7 610.7 366 614 366 C617.3 366 623.3 368.3 626 370 C628.7 371.7 629.3 369.3 630 376 C630.7 382.7 631.3 403.7 630 410 C628.7 416.3 624.7 414 622 414 C619.3 414 616.7 411.3 614 410 C611.3 408.7 608.7 406.7 606 406 C603.3 405.3 600 407.7 598 406 C596 404.3 594.7 400.3 594 396 C593.3 391.7 592 384.3 594 380Z" fill="#a6f28f"/>
<path d="M542 422 C542.7 419.3 549.3 417.3 554 416 C558.7 414.7 565.3 414 570 414 C574.7 414 578.7 414.3 582 416 C585.3 417.7 587.7 421.7 590 424 C592.3 426.3 593.3 428.3 596 430 C598.7 431.7 602.3 433 606 434 C609.7 435 614 436 618 436 C622 436 628 433 630 434 C632 435 632 440.3 630 442 C628 443.7 622 444 618 444 C614 444 610 443 606 442 C602 441 598 439 594 438 C590 437 586 436.7 582 436 C578 435.3 574 434.3 570 434 C566 433.7 561.3 434.3 558 434 C554.7 433.7 552.7 434 550 432 C547.3 430 541.3 424.7 542 422Z" fill="#a6f28f"/>
<path d="M472 436 C473 434.3 477 435 480 434 C483 433 486.7 430.3 490 430 C493.3 429.7 498 430.3 500 432 C502 433.7 503.7 438.3 502 440 C500.3 441.7 493.7 441 490 442 C486.3 443 482.7 445.7 480 446 C477.3 446.3 475.3 445.7 474 444 C472.7 442.3 471 437.7 472 436Z" fill="#a6f28f"/>
<path d="M546 466 C547.7 464.3 553.3 464.7 556 466 C558.7 467.3 562.3 471.7 562 474 C561.7 476.3 556.7 479.7 554 480 C551.3 480.3 547.3 478.3 546 476 C544.7 473.7 544.3 467.7 546 466Z" fill="#a6f28f"/>
<path d="M570 470 C572.7 468.3 582.3 467.3 586 468 C589.7 468.7 591.7 471.3 592 474 C592.3 476.7 591 482.3 588 484 C585 485.7 577 485 574 484 C571 483 570.7 480.3 570 478 C569.3 475.7 567.3 471.7 570 470Z" fill="#a6f28f"/>
<path d="M514 354 C514.7 352.7 517.3 352.7 518 354 C518.7 355.3 518.7 360.7 518 362 C517.3 363.3 514.7 363.3 514 362 C513.3 360.7 513.3 355.3 514 354Z" fill="#a6f28f"/>
<path d="M388 280 C391.7 278 410.3 278.3 414 280 C417.7 281.7 412.3 287.3 410 290 C407.7 292.7 403 295.7 400 296 C397 296.3 394 294.7 392 292 C390 289.3 384.3 282 388 280Z" fill="#3dba3d"/>
<path d="M436 304 C437.3 302.3 442.3 300.3 444 302 C445.7 303.7 446.7 311.3 446 314 C445.3 316.7 441.7 318.3 440 318 C438.3 317.7 436.7 314.3 436 312 C435.3 309.7 434.7 305.7 436 304Z" fill="#3dba3d"/>
<path d="M446 280 C448 276.7 458 278 462 280 C466 282 468.7 287.3 470 292 C471.3 296.7 472 305 470 308 C468 311 461.3 311.3 458 310 C454.7 308.7 452 305 450 300 C448 295 444 283.3 446 280Z" fill="#3dba3d"/>
<path d="M422 332 C423.7 329.3 430 326.7 434 324 C438 321.3 442 318.3 446 316 C450 313.7 454 311.7 458 310 C462 308.3 468 297 470 306 C472 315 472 355 470 364 C468 373 461.3 361.3 458 360 C454.7 358.7 453 357.7 450 356 C447 354.3 443.3 351.7 440 350 C436.7 348.3 432.7 347.7 430 346 C427.3 344.3 425.3 342.3 424 340 C422.7 337.7 420.3 334.7 422 332Z" fill="#3dba3d"/>
<path d="M450 360 C453 358.3 466.7 352.7 470 356 C473.3 359.3 471.7 377.3 470 380 C468.3 382.7 463 374.3 460 372 C457 369.7 453.7 368 452 366 C450.3 364 447 361.7 450 360Z" fill="#3dba3d"/>
<path d="M290 348 C291.7 344.7 296.7 346 300 346 C303.3 346 307.3 346.3 310 348 C312.7 349.7 315.3 353 316 356 C316.7 359 316 363.7 314 366 C312 368.3 307 369 304 370 C301 371 298.3 372.7 296 372 C293.7 371.3 291 370 290 366 C289 362 288.3 351.3 290 348Z" fill="#3dba3d"/>
<path d="M278 408 C279.7 405 285 402.7 288 402 C291 401.3 294 401.7 296 404 C298 406.3 300.3 412.7 300 416 C299.7 419.3 296.7 422.3 294 424 C291.3 425.7 286.7 426.7 284 426 C281.3 425.3 279 423 278 420 C277 417 276.3 411 278 408Z" fill="#3dba3d"/>
<path d="M420 382 C421.3 380 427 378.3 430 380 C433 381.7 435.7 388.7 438 392 C440.3 395.3 444.3 398 444 400 C443.7 402 438.3 404.7 436 404 C433.7 403.3 432.3 398 430 396 C427.7 394 423.7 394.3 422 392 C420.3 389.7 418.7 384 420 382Z" fill="#ffffff"/>
<path d="M326 424 C326.7 422.3 329 421 330 422 C331 423 332.7 428.3 332 430 C331.3 431.7 327 433 326 432 C325 431 325.3 425.7 326 424Z" fill="#ffffff"/>
<path d="M236 426 C236.7 422 237.7 416.7 240 414 C242.3 411.3 247 411 250 410 C253 409 257 406.3 258 408 C259 409.7 257.7 416.7 256 420 C254.3 423.3 250.7 425.3 248 428 C245.3 430.7 242 434.3 240 436 C238 437.7 236.7 439.7 236 438 C235.3 436.3 235.3 430 236 426Z" fill="#3dba3d"/>
<path d="M210 492 C213.3 488.7 216.7 481.3 220 476 C223.3 470.7 227.3 464 230 460 C232.7 456 233.3 453 236 452 C238.7 451 242.7 452.3 246 454 C249.3 455.7 253.3 459.3 256 462 C258.7 464.7 259.7 468.3 262 470 C264.3 471.7 268 473 270 472 C272 471 272.3 466 274 464 C275.7 462 277.7 459.7 280 460 C282.3 460.3 286 464 288 466 C290 468 289.7 472 292 472 C294.3 472 298.3 468 302 466 C305.7 464 310.7 461.7 314 460 C317.3 458.3 319.3 456.7 322 456 C324.7 455.3 327.3 457.3 330 456 C332.7 454.7 335.3 450.7 338 448 C340.7 445.3 344 442 346 440 C348 438 348.3 435.3 350 436 C351.7 436.7 354 441.3 356 444 C358 446.7 359 451 362 452 C365 453 369.3 451.3 374 450 C378.7 448.7 387.3 441.3 390 444 C392.7 446.7 392.7 462.7 390 466 C387.3 469.3 378.7 464 374 464 C369.3 464 365.3 464.3 362 466 C358.7 467.7 356.7 471.7 354 474 C351.3 476.3 348 477.7 346 480 C344 482.3 343.3 485.3 342 488 C340.7 490.7 339.3 493.3 338 496 C336.7 498.7 335.3 501.3 334 504 C332.7 506.7 332.3 509.3 330 512 C327.7 514.7 322.7 517.3 320 520 C317.3 522.7 316.3 525.7 314 528 C311.7 530.3 309.3 532.3 306 534 C302.7 535.7 298 537 294 538 C290 539 285.3 539 282 540 C278.7 541 276.7 543.3 274 544 C271.3 544.7 270 545.3 266 544 C262 542.7 254.7 538.7 250 536 C245.3 533.3 241.3 530.7 238 528 C234.7 525.3 233 522 230 520 C227 518 223.3 517 220 516 C216.7 515 213 514.7 210 514 C207 513.3 204.3 513.7 202 512 C199.7 510.3 196.3 506.7 196 504 C195.7 501.3 197.7 498 200 496 C202.3 494 206.7 495.3 210 492Z" fill="#3dba3d"/>
<path d="M334 488 C336 486.3 343 488.7 346 490 C349 491.3 351 493.7 352 496 C353 498.3 353 502 352 504 C351 506 348.3 507.7 346 508 C343.7 508.3 340 507.3 338 506 C336 504.7 334.7 503 334 500 C333.3 497 332 489.7 334 488Z" fill="#3dba3d"/>
<path d="M290 436 L298 432 L306 440 L298 442 L292 440Z" fill="#ffffff"/>
<path d="M106 554 C108 551 114.3 551 120 550 C125.7 549 135.7 548 140 548 C144.3 548 146.3 548.3 146 550 C145.7 551.7 141.3 556.3 138 558 C134.7 559.7 130 559.7 126 560 C122 560.3 117 558.7 114 560 C111 561.3 109.3 569 108 568 C106.7 567 104 557 106 554Z" fill="#3dba3d"/>
<path d="M150 522 C151.7 520.7 156.7 519.7 160 518 C163.3 516.3 167 515 170 512 C173 509 173.3 502 178 500 C182.7 498 195 497.3 198 500 C201 502.7 197.3 512.3 196 516 C194.7 519.7 191.7 519.3 190 522 C188.3 524.7 187.3 529.7 186 532 C184.7 534.3 184.7 536 182 536 C179.3 536 173.7 533.3 170 532 C166.3 530.7 163.3 529 160 528 C156.7 527 151.7 527 150 526 C148.3 525 148.3 523.3 150 522Z" fill="#3dba3d"/>
<path d="M130 592 C132 590.3 138 589.3 142 588 C146 586.7 150.7 584.3 154 584 C157.3 583.7 158.7 586.3 162 586 C165.3 585.7 171.3 584 174 582 C176.7 580 176 576.3 178 574 C180 571.7 183.7 568.3 186 568 C188.3 567.7 190.7 570 192 572 C193.3 574 191.7 578.3 194 580 C196.3 581.7 202.7 581 206 582 C209.3 583 211.3 585.3 214 586 C216.7 586.7 219.3 586.3 222 586 C224.7 585.7 227.3 585 230 584 C232.7 583 235.3 581.3 238 580 C240.7 578.7 244 576 246 576 C248 576 248.7 578 250 580 C251.3 582 252 587 254 588 C256 589 259.3 587.3 262 586 C264.7 584.7 266.7 582.3 270 580 C273.3 577.7 278.7 574.3 282 572 C285.3 569.7 288.3 559.3 290 566 C291.7 572.7 293.3 603 292 612 C290.7 621 285.7 618 282 620 C278.3 622 273.3 622.7 270 624 C266.7 625.3 265.3 627.3 262 628 C258.7 628.7 253.3 628 250 628 C246.7 628 244.7 629.3 242 628 C239.3 626.7 236 622 234 620 C232 618 232 616.7 230 616 C228 615.3 224.7 615.7 222 616 C219.3 616.3 216.7 616.7 214 618 C211.3 619.3 208.7 622.3 206 624 C203.3 625.7 200.3 626.7 198 628 C195.7 629.3 193.3 630 192 632 C190.7 634 189.7 636.7 190 640 C190.3 643.3 194.7 650 194 652 C193.3 654 188.7 656 186 652 C183.3 648 180.7 633.3 178 628 C175.3 622.7 172 622.7 170 620 C168 617.3 168 614 166 612 C164 610 160.7 609.3 158 608 C155.3 606.7 152.7 605.3 150 604 C147.3 602.7 144.7 600.7 142 600 C139.3 599.3 136 600.3 134 600 C132 599.7 130.7 599.3 130 598 C129.3 596.7 128 593.7 130 592Z" fill="#3dba3d"/>
<path d="M170 604 C171.3 601 177.3 599.7 182 598 C186.7 596.3 193.3 594.7 198 594 C202.7 593.3 207.3 593 210 594 C212.7 595 213.3 597.3 214 600 C214.7 602.7 214.7 607 214 610 C213.3 613 212 615.7 210 618 C208 620.3 204.7 622.3 202 624 C199.3 625.7 196.3 627.3 194 628 C191.7 628.7 190 629.3 188 628 C186 626.7 184.3 622 182 620 C179.7 618 176 618.7 174 616 C172 613.3 168.7 607 170 604Z" fill="#a6f28f"/>
<path d="M210 640 C211.3 637.3 214.7 634 218 632 C221.3 630 226.7 628.3 230 628 C233.3 627.7 236 628 238 630 C240 632 240.7 636.3 242 640 C243.3 643.7 248 649.3 246 652 C244 654.7 235.3 655.3 230 656 C224.7 656.7 217.3 657.3 214 656 C210.7 654.7 210.7 650.7 210 648 C209.3 645.3 208.7 642.7 210 640Z" fill="#a6f28f"/>
<path d="M266 612 C267 609.3 270.7 608.7 274 608 C277.3 607.3 283 607.3 286 608 C289 608.7 291 608.7 292 612 C293 615.3 295 624.7 292 628 C289 631.3 278 632.7 274 632 C270 631.3 269.3 627.3 268 624 C266.7 620.7 265 614.7 266 612Z" fill="#a6f28f"/>
<path d="M230 546 C231.3 544 238.7 543.7 242 544 C245.3 544.3 248 546.3 250 548 C252 549.7 254 552 254 554 C254 556 252 559 250 560 C248 561 244.7 560.7 242 560 C239.3 559.3 236 558.3 234 556 C232 553.7 228.7 548 230 546Z" fill="#3dba3d"/>
<path d="M234 528 C234.7 525 239.3 522.3 242 522 C244.7 521.7 246.7 524 250 526 C253.3 528 258 532 262 534 C266 536 270 537 274 538 C278 539 283 539 286 540 C289 541 291 541.3 292 544 C293 546.7 295.7 554 292 556 C288.3 558 275 555.7 270 556 C265 556.3 264.7 557.3 262 558 C259.3 558.7 256 560.7 254 560 C252 559.3 251.3 556.7 250 554 C248.7 551.3 248 546.3 246 544 C244 541.7 240 542.7 238 540 C236 537.3 233.3 531 234 528Z" fill="#3dba3d"/>
<path d="M210 606 C212.7 602.7 216.3 602.3 220 600 C223.7 597.7 228 594 232 592 C236 590 240.7 590 244 588 C247.3 586 249.3 583 252 580 C254.7 577 257.3 573 260 570 C262.7 567 264.7 564 268 562 C271.3 560 276 558 280 558 C284 558 288.3 560 292 562 C295.7 564 299.7 567.3 302 570 C304.3 572.7 306.3 575.7 306 578 C305.7 580.3 302 582 300 584 C298 586 295.3 587.3 294 590 C292.7 592.7 293 597.3 292 600 C291 602.7 290.7 604.7 288 606 C285.3 607.3 279.3 607 276 608 C272.7 609 270.7 610.7 268 612 C265.3 613.3 262.7 614.3 260 616 C257.3 617.7 254.7 620 252 622 C249.3 624 246.7 627 244 628 C241.3 629 238 629 236 628 C234 627 234 623.7 232 622 C230 620.3 226.3 618.3 224 618 C221.7 617.7 220 619 218 620 C216 621 213.3 622 212 624 C210.7 626 209.7 629.3 210 632 C210.3 634.7 213 637.3 214 640 C215 642.7 216.7 645.3 216 648 C215.3 650.7 212.7 653.3 210 656 C207.3 658.7 203 663 200 664 C197 665 192 664 192 662 C192 660 199.7 655 200 652 C200.3 649 195.3 647 194 644 C192.7 641 191.7 637 192 634 C192.3 631 194 628.3 196 626 C198 623.7 201.7 623.3 204 620 C206.3 616.7 207.3 609.3 210 606Z" fill="#3dba3d"/>
<path d="M332 616 C334.7 613.3 340.7 613.7 344 612 C347.3 610.3 349.3 607.3 352 606 C354.7 604.7 357 604.3 360 604 C363 603.7 367.3 602.7 370 604 C372.7 605.3 374.3 609.3 376 612 C377.7 614.7 379 610.7 380 620 C381 629.3 383.3 660.3 382 668 C380.7 675.7 376.3 666 372 666 C367.7 666 361.3 667.3 356 668 C350.7 668.7 344.7 670 340 670 C335.3 670 330.7 669.7 328 668 C325.3 666.3 323.3 662.3 324 660 C324.7 657.7 330.3 656.7 332 654 C333.7 651.3 334.3 647 334 644 C333.7 641 331 638.7 330 636 C329 633.3 327.7 631.3 328 628 C328.3 624.7 329.3 618.7 332 616Z" fill="#3dba3d"/>
<path d="M324 644 C325 641 330.3 638.7 332 640 C333.7 641.3 334 649 334 652 C334 655 333.3 657 332 658 C330.7 659 327.3 660.3 326 658 C324.7 655.7 323 647 324 644Z" fill="#a6f28f"/>
<path d="M350 448 C353 447.3 363.3 452 370 452 C376.7 452 382.7 450 390 448 C397.3 446 408 441 414 440 C420 439 424.3 440 426 442 C427.7 444 426 449.3 424 452 C422 454.7 416.3 455.7 414 458 C411.7 460.3 409 463.3 410 466 C411 468.7 416.7 471.7 420 474 C423.3 476.3 427.7 477.3 430 480 C432.3 482.7 434 487.3 434 490 C434 492.7 431.3 495.7 430 496 C428.7 496.3 428 494 426 492 C424 490 421.3 487 418 484 C414.7 481 409.3 476.7 406 474 C402.7 471.3 402.3 469.3 398 468 C393.7 466.7 384.7 467 380 466 C375.3 465 373.3 463 370 462 C366.7 461 363 461 360 460 C357 459 353.7 458 352 456 C350.3 454 347 448.7 350 448Z" fill="#3dba3d"/>
<path d="M330 458 C331.7 450 337.3 454 340 456 C342.7 458 345.7 466 346 470 C346.3 474 344 477.3 342 480 C340 482.7 334 484 334 486 C334 488 339.3 490.3 342 492 C344.7 493.7 348.3 494 350 496 C351.7 498 353.3 502 352 504 C350.7 506 345 507.3 342 508 C339 508.7 336 508.7 334 508 C332 507.3 330.7 512.3 330 504 C329.3 495.7 328.3 466 330 458Z" fill="#3dba3d"/>
<path d="M398 504 C400.3 502 411 500 414 502 C417 504 415 511.7 416 516 C417 520.3 420 524.7 420 528 C420 531.3 418 533.7 416 536 C414 538.3 410.7 540.7 408 542 C405.3 543.3 402 545.3 400 544 C398 542.7 396.3 537.3 396 534 C395.7 530.7 397.3 527.3 398 524 C398.7 520.7 400 517.3 400 514 C400 510.7 395.7 506 398 504Z" fill="#3dba3d"/>
<path d="M378 554 C380.3 551.3 386.7 553.7 390 552 C393.3 550.3 394.7 546 398 544 C401.3 542 406.7 540 410 540 C413.3 540 415.3 542 418 544 C420.7 546 423.3 550 426 552 C428.7 554 432 554 434 556 C436 558 438 560.7 438 564 C438 567.3 436 573.3 434 576 C432 578.7 429.3 579.7 426 580 C422.7 580.3 417.3 578.7 414 578 C410.7 577.3 409.3 576.3 406 576 C402.7 575.7 397.3 575.3 394 576 C390.7 576.7 388.7 579.7 386 580 C383.3 580.3 379.7 580 378 578 C376.3 576 376 572 376 568 C376 564 375.7 556.7 378 554Z" fill="#3dba3d"/>
<path d="M430 492 C431.3 489.7 435.7 489.3 438 490 C440.3 490.7 442.7 493.3 444 496 C445.3 498.7 446.3 503 446 506 C445.7 509 444 513 442 514 C440 515 436 513.7 434 512 C432 510.3 430.7 507.3 430 504 C429.3 500.7 428.7 494.3 430 492Z" fill="#3dba3d"/>
<path d="M452 514 C453.3 512.3 459.7 511 462 512 C464.3 513 466 518.3 466 520 C466 521.7 464 521.7 462 522 C460 522.3 455.7 523.3 454 522 C452.3 520.7 450.7 515.7 452 514Z" fill="#3dba3d"/>
<path d="M454 460 C454.7 455.3 459.3 452.7 462 452 C464.7 451.3 466 454.7 470 456 C474 457.3 481.3 458.7 486 460 C490.7 461.3 494 464 498 464 C502 464 506 461.3 510 460 C514 458.7 518.7 456.7 522 456 C525.3 455.3 528.7 444 530 456 C531.3 468 531.3 516.7 530 528 C528.7 539.3 525.3 525.7 522 524 C518.7 522.3 513.3 521 510 518 C506.7 515 504.7 508.3 502 506 C499.3 503.7 496.7 503.7 494 504 C491.3 504.3 488.7 506.7 486 508 C483.3 509.3 481.3 510.7 478 512 C474.7 513.3 468.7 517.3 466 516 C463.3 514.7 463 508 462 504 C461 500 460.7 496 460 492 C459.3 488 459 485.3 458 480 C457 474.7 453.3 464.7 454 460Z" fill="#3dba3d"/>
<path d="M446 568 C448 562 454 564.7 458 564 C462 563.3 466 563.7 470 564 C474 564.3 478 565.3 482 566 C486 566.7 490 568.3 494 568 C498 567.7 502 564.3 506 564 C510 563.7 514 565.3 518 566 C522 566.7 528 562.3 530 568 C532 573.7 544 594.7 530 600 C516 605.3 460 605.3 446 600 C432 594.7 444 574 446 568Z" fill="#3dba3d"/>
<path d="M470 580 C471.3 578 476 577 478 578 C480 579 482 583.7 482 586 C482 588.3 480 591.3 478 592 C476 592.7 471.3 592 470 590 C468.7 588 468.7 582 470 580Z" fill="#a6f28f"/>
<path d="M546 468 C547.7 466.7 553.3 465.3 556 466 C558.7 466.7 561.3 469.7 562 472 C562.7 474.3 561.7 478.7 560 480 C558.3 481.3 554.3 481 552 480 C549.7 479 547 476 546 474 C545 472 544.3 469.3 546 468Z" fill="#a6f28f"/>
<path d="M572 474 C573.7 472 579 470.3 582 470 C585 469.7 588.3 470.7 590 472 C591.7 473.3 592.7 476 592 478 C591.3 480 588.7 482.7 586 484 C583.3 485.3 578.3 486.3 576 486 C573.7 485.7 572.7 484 572 482 C571.3 480 570.3 476 572 474Z" fill="#a6f28f"/>
<path d="M586 512 C587.3 510.7 592 509.3 594 510 C596 510.7 598.3 514.3 598 516 C597.7 517.7 594 519.7 592 520 C590 520.3 587 519.3 586 518 C585 516.7 584.7 513.3 586 512Z" fill="#a6f28f"/>
<path d="M480 510 C483.7 503.7 488 503.3 492 502 C496 500.7 500.3 501 504 502 C507.7 503 511.3 505 514 508 C516.7 511 519.7 515.3 520 520 C520.3 524.7 515 531.7 516 536 C517 540.3 524.7 543 526 546 C527.3 549 525.7 551.7 524 554 C522.3 556.3 519 559.3 516 560 C513 560.7 510 557.7 506 558 C502 558.3 496.3 561 492 562 C487.7 563 483.7 567.7 480 564 C476.3 560.3 470 549 470 540 C470 531 476.3 516.3 480 510Z" fill="#a6f28f"/>
<path d="M538 534 C539 531 541.7 526.3 544 524 C546.3 521.7 549 520.7 552 520 C555 519.3 559.3 518.7 562 520 C564.7 521.3 565.7 526 568 528 C570.3 530 574 530 576 532 C578 534 580.7 537.3 580 540 C579.3 542.7 575.3 546.3 572 548 C568.7 549.7 564.3 550 560 550 C555.7 550 549.7 549.3 546 548 C542.3 546.7 539.3 544.3 538 542 C536.7 539.7 537 537 538 534Z" fill="#a6f28f"/>
<path d="M570 554 C570.7 552.3 576.3 551 578 552 C579.7 553 580.7 558.3 580 560 C579.3 561.7 575.7 563 574 562 C572.3 561 569.3 555.7 570 554Z" fill="#a6f28f"/>
<path d="M506 600 C507.7 597 513.7 595.3 516 596 C518.3 596.7 520.3 601 520 604 C519.7 607 516.3 612.3 514 614 C511.7 615.7 507.3 616.3 506 614 C504.7 611.7 504.3 603 506 600Z" fill="#a6f28f"/>
<path d="M400 582 C404.2 579 418.3 580.7 425 582 C431.7 583.3 436.3 587 440 590 C443.7 593 445.7 595 447 600 C448.3 605 448.2 613.3 448 620 C447.8 626.7 447.3 634.7 446 640 C444.7 645.3 443.5 649.2 440 652 C436.5 654.8 429.7 656.2 425 657 C420.3 657.8 415.3 658.2 412 657 C408.7 655.8 407 652.8 405 650 C403 647.2 400.2 643.3 400 640 C399.8 636.7 403 634.2 404 630 C405 625.8 406.7 620 406 615 C405.3 610 401 605.5 400 600 C399 594.5 395.8 585 400 582Z" fill="#3dba3d"/>
<path d="M294 216 C294.8 214.8 297.7 214.7 300 213 C302.3 211.3 305.7 206.8 308 206 C310.3 205.2 312 207.3 314 208 C316 208.7 319 209 320 210 C321 211 321.3 212.7 320 214 C318.7 215.3 314.3 217.7 312 218 C309.7 218.3 308.2 215.2 306 216 C303.8 216.8 300.8 222.3 299 223 C297.2 223.7 295.8 221.2 295 220 C294.2 218.8 293.2 217.2 294 216Z" fill="#61b8ff"/>
<path d="M372 250 C373.3 247.8 377.8 248.3 380 249 C382.2 249.7 384.3 252 385 254 C385.7 256 385.2 259.5 384 261 C382.8 262.5 380 262.8 378 263 C376 263.2 373 264.2 372 262 C371 259.8 370.7 252.2 372 250Z" fill="#61b8ff"/>
<path d="M422 226 C423.3 223.3 430.3 220.7 434 218 C437.7 215.3 441.3 212 444 210 C446.7 208 448 206 450 206 C452 206 454.7 206 456 210 C457.3 214 457.7 224.7 458 230 C458.3 235.3 459.7 239.8 458 242 C456.3 244.2 451.7 243.3 448 243 C444.3 242.7 439.7 241.5 436 240 C432.3 238.5 428.3 236.3 426 234 C423.7 231.7 420.7 228.7 422 226Z" fill="#61b8ff"/>
<path d="M286 306 C287 304.3 290.2 300.3 292 300 C293.8 299.7 296.3 302 297 304 C297.7 306 297.2 310.3 296 312 C294.8 313.7 291.7 314.3 290 314 C288.3 313.7 286.7 311.3 286 310 C285.3 308.7 285 307.7 286 306Z" fill="#61b8ff"/>
<path d="M400 314 C400.7 312.2 402.7 310.3 404 311 C405.3 311.7 407.8 315.8 408 318 C408.2 320.2 406.3 323.3 405 324 C403.7 324.7 400.8 323.7 400 322 C399.2 320.3 399.3 315.8 400 314Z" fill="#61b8ff"/>
<path d="M440 206 C441.3 199.7 445.7 201.3 448 202 C450.3 202.7 452.7 206.3 454 210 C455.3 213.7 455.3 219.7 456 224 C456.7 228.3 458.7 233 458 236 C457.3 239 454.3 240.7 452 242 C449.7 243.3 446 244.3 444 244 C442 243.7 440.7 246.3 440 240 C439.3 233.7 438.7 212.3 440 206Z" fill="#61b8ff"/>
<path d="M484 224 C485.5 222.8 490.2 221.3 492 222 C493.8 222.7 495 225.8 495 228 C495 230.2 493.5 234 492 235 C490.5 236 487.5 235 486 234 C484.5 233 483.3 230.7 483 229 C482.7 227.3 482.5 225.2 484 224Z" fill="#61b8ff"/>
<path d="M476 272 C476.7 268.5 477.7 266 480 264 C482.3 262 486.7 261 490 260 C493.3 259 497 258 500 258 C503 258 505.3 260 508 260 C510.7 260 513.7 258.7 516 258 C518.3 257.3 520 256.7 522 256 C524 255.3 525.7 255 528 254 C530.3 253 533.3 251 536 250 C538.7 249 541.3 249 544 248 C546.7 247 549.3 244.7 552 244 C554.7 243.3 557.3 243.3 560 244 C562.7 244.7 565.3 248 568 248 C570.7 248 573.3 245.3 576 244 C578.7 242.7 581.3 240.3 584 240 C586.7 239.7 589.7 240.7 592 242 C594.3 243.3 596.3 246 598 248 C599.7 250 600.7 252 602 254 C603.3 256 604.3 258.7 606 260 C607.7 261.3 609.7 262 612 262 C614.3 262 617.3 261.3 620 260 C622.7 258.7 625.7 255.7 628 254 C630.3 252.3 632 251 634 250 C636 249 637.3 249.7 640 248 C642.7 246.3 646.7 241.3 650 240 C653.3 238.7 655 238.3 660 240 C665 241.7 676.7 235 680 250 C683.3 265 683.7 315.3 680 330 C676.3 344.7 664.7 335.5 658 338 C651.3 340.5 646.3 343.4 640 345 C633.7 346.6 624.8 348.3 620 347.5 C615.2 346.7 614 341.5 611 340 C608 338.5 605 339.5 602 338.5 C599 337.5 595.5 335.8 593 334 C590.5 332.2 588.8 330.5 587 328 C585.2 325.5 584.5 321 582.5 319 C580.5 317 576.8 317 575 316 C573.2 315 574 314.5 572 313 C570 311.5 565 309.5 563 307 C561 304.5 561.5 299.8 560 298 C558.5 296.2 555.8 296.2 554 296.5 C552.2 296.8 551 299.2 549.5 299.5 C548 299.8 546.2 299 545 298 C543.8 297 543.5 295.2 542 293.5 C540.5 291.8 538 288.2 536 287.5 C534 286.8 532.8 288.2 530 289 C527.2 289.8 522.5 292 519.5 292 C516.5 292 514.8 288.5 512 289 C509.2 289.5 503.8 293.2 503 295 C502.2 296.8 505.8 298.2 507.5 299.5 C509.2 300.8 513 300.8 513.5 302.5 C514 304.2 510.8 307.8 510.5 310 C510.2 312.2 511.2 314 512 316 C512.8 318 515 320 515 322 C515 324 513.5 326 512 328 C510.5 330 508 332 506 334 C504 336 502 338.5 500 340 C498 341.5 496.5 342 494 343 C491.5 344 487.5 345.5 485 346 C482.5 346.5 481.5 345 479 346 C476.5 347 473.2 351 470 352 C466.8 353 463 351.7 460 352 C457 352.3 454.3 353.7 452 354 C449.7 354.3 448.3 355.3 446 354 C443.7 352.7 440 349 438 346 C436 343 433.7 339.3 434 336 C434.3 332.7 437 329 440 326 C443 323 448.7 320.7 452 318 C455.3 315.3 457 312 460 310 C463 308 467.3 308 470 306 C472.7 304 475 301.5 476 298 C477 294.5 476 289.3 476 285 C476 280.7 475.3 275.5 476 272Z" fill="#61b8ff"/>
<path d="M582 161 C584.3 158.7 590.3 160.7 594 159 C597.7 157.3 601.3 153.3 604 151 C606.7 148.7 607 146 610 145 C613 144 618.7 144.3 622 145 C625.3 145.7 629 146.3 630 149 C631 151.7 629 157.3 628 161 C627 164.7 625 167.7 624 171 C623 174.3 621.7 177 622 181 C622.3 185 625.7 190.7 626 195 C626.3 199.3 624.7 203.7 624 207 C623.3 210.3 623.3 213.7 622 215 C620.7 216.3 617.7 216.7 616 215 C614.3 213.3 613.7 208.3 612 205 C610.3 201.7 608.3 198 606 195 C603.7 192 600.7 188.3 598 187 C595.3 185.7 592.7 187.7 590 187 C587.3 186.3 583.7 185.3 582 183 C580.3 180.7 580 176.7 580 173 C580 169.3 579.7 163.3 582 161Z" fill="#61b8ff"/>
<path d="M594 197 C595 195 600.3 195.3 602 197 C603.7 198.7 605 205 604 207 C603 209 597.7 210.7 596 209 C594.3 207.3 593 199 594 197Z" fill="#61b8ff"/>
<path d="M570 239 C570.3 235.8 578.7 240 582 241 C585.3 242 586.7 243 590 245 C593.3 247 598.7 250.7 602 253 C605.3 255.3 606 257.7 610 259 C614 260.3 622.7 261.7 626 261 C629.3 260.3 628 256.3 630 255 C632 253.7 635.3 253.7 638 253 C640.7 252.3 643.3 252.7 646 251 C648.7 249.3 651.3 245.7 654 243 C656.7 240.3 660.3 238 662 235 C663.7 232 662.3 227.7 664 225 C665.7 222.3 669 219 672 219 C675 219 679.3 222.3 682 225 C684.7 227.7 688 231.7 688 235 C688 238.3 684.3 242.3 682 245 C679.7 247.7 675.7 248 674 251 C672.3 254 670.7 259 672 263 C673.3 267 687.3 271.3 682 275 C676.7 278.7 657 287.5 640 285 C623 282.5 591.7 267.7 580 260 C568.3 252.3 569.7 242.2 570 239Z" fill="#61b8ff"/>
<path d="M694 219 C694.7 217.7 698.7 216.3 700 217 C701.3 217.7 702.7 221.7 702 223 C701.3 224.3 697.3 225.7 696 225 C694.7 224.3 693.3 220.3 694 219Z" fill="#61b8ff"/>
<path d="M704 147 C705.3 143.7 711.7 145.7 714 147 C716.3 148.3 716.3 152.7 718 155 C719.7 157.3 721.7 159 724 161 C726.3 163 731 164.7 732 167 C733 169.3 731 173 730 175 C729 177 725.3 178 726 179 C726.7 180 730.7 180.7 734 181 C737.3 181.3 743.3 179.3 746 181 C748.7 182.7 748 189 750 191 C752 193 756 191.7 758 193 C760 194.3 760.7 196.3 762 199 C763.3 201.7 766.3 207 766 209 C765.7 211 762.7 211 760 211 C757.3 211 753.3 209 750 209 C746.7 209 744 210 740 211 C736 212 730 215.3 726 215 C722 214.7 718.7 211.7 716 209 C713.3 206.3 711.7 203 710 199 C708.3 195 707 189 706 185 C705 181 704 178 704 175 C704 172 706 171.7 706 167 C706 162.3 702.7 150.3 704 147Z" fill="#61b8ff"/>
<path d="M726 178 C728.7 174.7 736 175.3 740 176 C744 176.7 747.7 179.7 750 182 C752.3 184.3 751.7 188.7 754 190 C756.3 191.3 761 190.7 764 190 C767 189.3 769.3 186.3 772 186 C774.7 185.7 777 186.7 780 188 C783 189.3 788.3 191.3 790 194 C791.7 196.7 790.7 201.3 790 204 C789.3 206.7 786.3 207.7 786 210 C785.7 212.3 787.3 215.3 788 218 C788.7 220.7 790.3 224 790 226 C789.7 228 789 229.3 786 230 C783 230.7 776.3 230.7 772 230 C767.7 229.3 763.7 228 760 226 C756.3 224 753.3 220 750 218 C746.7 216 743.7 215.3 740 214 C736.3 212.7 730.7 213 728 210 C725.3 207 724.3 201.3 724 196 C723.7 190.7 723.3 181.3 726 178Z" fill="#61b8ff"/>
<path d="M788 206 C790.3 202 799.3 202 804 200 C808.7 198 812.7 195 816 194 C819.3 193 823.3 192.7 824 194 C824.7 195.3 821 199.3 820 202 C819 204.7 817.3 207.3 818 210 C818.7 212.7 822.3 216.3 824 218 C825.7 219.7 828 218 828 220 C828 222 825.3 227 824 230 C822.7 233 822.7 236.7 820 238 C817.3 239.3 812 239 808 238 C804 237 799 234.3 796 232 C793 229.7 791.3 228.3 790 224 C788.7 219.7 785.7 210 788 206Z" fill="#61b8ff"/>
<path d="M826 218 C829.3 213.3 838.3 208.3 844 208 C849.7 207.7 856 213.7 860 216 C864 218.3 865 220.3 868 222 C871 223.7 875 225 878 226 C881 227 883.3 228.7 886 228 C888.7 227.3 891 224.3 894 222 C897 219.7 899.7 215.7 904 214 C908.3 212.3 913.2 209.7 920 212 C926.8 214.3 945 219.7 945 228 C945 236.3 927.5 257.3 920 262 C912.5 266.7 906.7 257.7 900 256 C893.3 254.3 886 253 880 252 C874 251 870.7 251.3 864 250 C857.3 248.7 846.7 246.3 840 244 C833.3 241.7 826.3 240.3 824 236 C821.7 231.7 822.7 222.7 826 218Z" fill="#61b8ff"/>
<path d="M772 260 C772.3 260.3 781.7 255.7 786 256 C790.3 256.3 795.7 258.7 798 262 C800.3 265.3 798.7 271.3 800 276 C801.3 280.7 801 287.3 806 290 C811 292.7 822.7 292.3 830 292 C837.3 291.7 843.3 289 850 288 C856.7 287 865 286 870 286 C875 286 875 287.3 880 288 C885 288.7 895.7 293 900 290 C904.3 287 904 275.3 906 270 C908 264.7 913 260.7 912 258 C911 255.3 905.3 255.3 900 254 C894.7 252.7 886.7 250 880 250 C873.3 250 867 252.8 860 254 C853 255.2 844.3 255.7 838 257 C831.7 258.3 826 259.5 822 262 C818 264.5 816.7 268 814 272 C811.3 276 808 286.3 806 286 C804 285.7 803.7 274.7 802 270 C800.3 265.3 799 260.7 796 258 C793 255.3 788 253.7 784 254 C780 254.3 771.7 259.7 772 260Z" fill="#61b8ff"/>
<path d="M670 220.4 C672.1 218.1 680.1 221.8 682.7 223.2 C685.3 224.6 686.2 226.9 685.5 228.8 C684.8 230.7 681.1 233 678.5 234.4 C675.9 235.8 671.4 239.6 670 237.3 C668.6 235 667.9 222.8 670 220.4Z" fill="#61b8ff"/>
<path d="M760.1 195 C761 193.6 766.7 195.9 768.6 197.8 C770.5 199.7 770 203.7 771.4 206.3 C772.8 208.9 774.4 211.4 777 213.3 C779.6 215.2 784.5 218 786.9 217.5 C789.2 217 789 212.8 791.1 210.5 C793.2 208.2 796.5 205.6 799.6 203.5 C802.8 201.4 808.3 193.1 810 197.8 C811.7 202.5 812.2 226.7 810 231.6 C807.8 236.5 800.2 228.8 796.8 227.4 C793.4 226 791.4 224.4 789.7 223.2 C788.1 222 789 221.8 786.9 220.4 C784.8 219 780 216.1 777 214.7 C774 213.3 770.9 213.3 768.6 211.9 C766.3 210.5 764.4 209.1 763 206.3 C761.6 203.5 759.2 196.4 760.1 195Z" fill="#61b8ff"/>
<path d="M670 259.8 C671.4 254 675.7 263 678.5 265.4 C681.3 267.8 683.6 272.5 686.9 273.9 C690.2 275.3 694 273.7 698.2 273.9 C702.4 274.1 708.1 274.8 712.3 275.3 C716.5 275.8 719.8 277.4 723.5 276.7 C727.2 276 731 272.6 734.8 271 C738.6 269.4 742.4 267.7 746.1 266.8 C749.9 265.9 753.5 266.3 757.3 265.4 C761 264.5 764.4 263.1 768.6 261.2 C772.8 259.3 778.5 255.8 782.7 254.2 C786.9 252.5 790 252.2 793.9 251.3 C797.8 250.4 804.3 245.9 806 249 C807.7 252.1 804 263.2 804 270 C804 276.8 813.3 285 806 290 C798.7 295 774.3 296.7 760 300 C745.7 303.3 733.3 308.3 720 310 C706.7 311.7 688.3 311.7 680 310 C671.7 308.3 671.7 308.4 670 300 C668.3 291.6 668.6 265.6 670 259.8Z" fill="#61b8ff"/>
<path d="M600 340 C605 345.8 621.7 344.2 630 345 C638.3 345.8 645.3 346.2 650 345 C654.7 343.8 655 340.5 658 338 C661 335.5 665 332 668 330 C671 328 674 329.3 676 326 C678 322.7 678.7 313.3 680 310 C681.3 306.7 682 306.3 684 306 C686 305.7 689.3 306.7 692 308 C694.7 309.3 697.7 312 700 314 C702.3 316 704 318.7 706 320 C708 321.3 709.7 320.7 712 322 C714.3 323.3 717.3 326.7 720 328 C722.7 329.3 725.3 329 728 330 C730.7 331 733.3 333.7 736 334 C738.7 334.3 741.3 332.7 744 332 C746.7 331.3 749.3 331.7 752 330 C754.7 328.3 757.7 324.3 760 322 C762.3 319.7 763.3 317.3 766 316 C768.7 314.7 772.3 314 776 314 C779.7 314 784 316.3 788 316 C792 315.7 798 316.3 800 312 C802 307.7 816.7 294.5 800 290 C783.3 285.5 730 283.3 700 285 C670 286.7 636.7 295.8 620 300 C603.3 304.2 603.3 303.3 600 310 C596.7 316.7 595 334.2 600 340Z" fill="#61b8ff"/>
<path d="M620 352 C622.7 350.7 637 352.3 640 354 C643 355.7 640.7 360.7 638 362 C635.3 363.3 627 363.7 624 362 C621 360.3 617.3 353.3 620 352Z" fill="#61b8ff"/>
<path d="M714 348 C715.7 347 721.7 345.3 724 346 C726.3 346.7 728.7 350.3 728 352 C727.3 353.7 722.3 356 720 356 C717.7 356 715 353.3 714 352 C713 350.7 712.3 349 714 348Z" fill="#61b8ff"/>
<path d="M720 358 C721.7 357.3 728 357 730 358 C732 359 733 362.7 732 364 C731 365.3 726 366.3 724 366 C722 365.7 720.7 363.3 720 362 C719.3 360.7 718.3 358.7 720 358Z" fill="#61b8ff"/>
<path d="M686 368 C687.3 366.7 692.3 367 694 368 C695.7 369 696.7 372.3 696 374 C695.3 375.7 691.7 377.7 690 378 C688.3 378.3 686.7 377.7 686 376 C685.3 374.3 684.7 369.3 686 368Z" fill="#61b8ff"/>
<path d="M714 374 C715 372.7 717.3 372.7 718 374 C718.7 375.3 719 380.7 718 382 C717 383.3 712.7 383.3 712 382 C711.3 380.7 713 375.3 714 374Z" fill="#61b8ff"/>
<path d="M566 349 C567.2 347.5 572.2 346.2 575 346 C577.8 345.8 581.5 346 582.5 347.5 C583.5 349 582.8 353.2 581 355 C579.2 356.8 574.2 358 572 358 C569.8 358 568.5 356.5 567.5 355 C566.5 353.5 564.8 350.5 566 349Z" fill="#61b8ff"/>
<path d="M524 396 C525.3 394.3 530.3 391.7 534 390 C537.7 388.3 542 387 546 386 C550 385 554.3 384 558 384 C561.7 384 565.3 384.3 568 386 C570.7 387.7 573 391 574 394 C575 397 574.7 401.3 574 404 C573.3 406.7 572 408 570 410 C568 412 564.7 414.7 562 416 C559.3 417.3 556.7 418 554 418 C551.3 418 548.7 417.3 546 416 C543.3 414.7 540 411.7 538 410 C536 408.3 535.3 407.3 534 406 C532.7 404.7 531.3 403 530 402 C528.7 401 527 401 526 400 C525 399 522.7 397.7 524 396Z" fill="#61b8ff"/>
<path d="M566 350 C567.3 347.7 575 346 578 346 C581 346 584 348 584 350 C584 352 580.3 356.3 578 358 C575.7 359.7 572 361.3 570 360 C568 358.7 564.7 352.3 566 350Z" fill="#61b8ff"/>
<path d="M552 446 C554 444 558.3 442.7 562 442 C565.7 441.3 569.7 442 574 442 C578.3 442 584.7 441.3 588 442 C591.3 442.7 591.7 444.7 594 446 C596.3 447.3 598.7 450 602 450 C605.3 450 610 447.3 614 446 C618 444.7 623 442.7 626 442 C629 441.3 631 438.7 632 442 C633 445.3 634.3 458 632 462 C629.7 466 622.3 464.7 618 466 C613.7 467.3 610 469.7 606 470 C602 470.3 598 468.7 594 468 C590 467.3 586 466.3 582 466 C578 465.7 573.3 465.3 570 466 C566.7 466.7 564.3 470.7 562 470 C559.7 469.3 558 464.7 556 462 C554 459.3 550.7 456.7 550 454 C549.3 451.3 550 448 552 446Z" fill="#61b8ff"/>
<path d="M198 496 C200.3 493.3 204.7 490.7 210 490 C215.3 489.3 223.3 491.7 230 492 C236.7 492.3 245.3 492.3 250 492 C254.7 491.7 254.7 490.7 258 490 C261.3 489.3 265.3 488.7 270 488 C274.7 487.3 281.3 487 286 486 C290.7 485 294.7 483.3 298 482 C301.3 480.7 303.3 479 306 478 C308.7 477 311.3 476 314 476 C316.7 476 320 476.7 322 478 C324 479.3 325.7 481.7 326 484 C326.3 486.3 325.3 489.7 324 492 C322.7 494.3 320.3 496.7 318 498 C315.7 499.3 312 498.3 310 500 C308 501.7 306 505.3 306 508 C306 510.7 309.7 513.7 310 516 C310.3 518.3 310 520.7 308 522 C306 523.3 301 523 298 524 C295 525 292.3 526 290 528 C287.7 530 286.7 533.7 284 536 C281.3 538.3 277.7 541 274 542 C270.3 543 265.7 543 262 542 C258.3 541 254.3 538.3 252 536 C249.7 533.7 250.3 530 248 528 C245.7 526 241 525.3 238 524 C235 522.7 233.7 521 230 520 C226.3 519 220 518.7 216 518 C212 517.3 209 516.7 206 516 C203 515.3 199.7 515.7 198 514 C196.3 512.3 196 509 196 506 C196 503 195.7 498.7 198 496Z" fill="#61b8ff"/>
<path d="M326 476 C327 474.7 332.2 472 334 472 C335.8 472 337 474.7 337 476 C337 477.3 335.5 479.3 334 480 C332.5 480.7 329.3 480.7 328 480 C326.7 479.3 325 477.3 326 476Z" fill="#61b8ff"/>
<path d="M170 522 C170.3 520.7 174.7 519.3 176 520 C177.3 520.7 178.3 524.7 178 526 C177.7 527.3 175.3 528.7 174 528 C172.7 527.3 169.7 523.3 170 522Z" fill="#61b8ff"/>
<path d="M134 604 C135 602.3 139.3 601 142 600 C144.7 599 147.7 597.7 150 598 C152.3 598.3 154.7 600.3 156 602 C157.3 603.7 159 606.7 158 608 C157 609.3 152.7 609.3 150 610 C147.3 610.7 144.3 612 142 612 C139.7 612 137.3 611.3 136 610 C134.7 608.7 133 605.7 134 604Z" fill="#61b8ff"/>
<path d="M254 580 C255.7 576.3 259.3 574.3 262 574 C264.7 573.7 267.7 575.7 270 578 C272.3 580.3 275.3 584.7 276 588 C276.7 591.3 275 595.3 274 598 C273 600.7 271.3 602.3 270 604 C268.7 605.7 267.7 607.3 266 608 C264.3 608.7 262 608.7 260 608 C258 607.3 255.3 606 254 604 C252.7 602 252 600 252 596 C252 592 252.3 583.7 254 580Z" fill="#61b8ff"/>
<path d="M250 606 C250.3 604.7 255.3 604 258 604 C260.7 604 265 604.7 266 606 C267 607.3 265.7 611 264 612 C262.3 613 258.3 613 256 612 C253.7 611 249.7 607.3 250 606Z" fill="#61b8ff"/>
<path d="M344 632 C345 629.7 348 624 350 622 C352 620 354.3 619.7 356 620 C357.7 620.3 358.7 622.7 360 624 C361.3 625.3 363 626.3 364 628 C365 629.7 366 632.3 366 634 C366 635.7 365.7 637.3 364 638 C362.3 638.7 358.7 638 356 638 C353.3 638 350 638.3 348 638 C346 637.7 344.7 637 344 636 C343.3 635 343 634.3 344 632Z" fill="#61b8ff"/>
<path d="M252 576 C253.3 574 257.3 572.3 260 572 C262.7 571.7 265.7 572 268 574 C270.3 576 272.7 581 274 584 C275.3 587 276.7 590 276 592 C275.3 594 271 594 270 596 C269 598 270.7 602.3 270 604 C269.3 605.7 267.7 605.3 266 606 C264.3 606.7 262 607.7 260 608 C258 608.3 255.7 608.7 254 608 C252.3 607.3 250.3 605.7 250 604 C249.7 602.3 251.3 600 252 598 C252.7 596 254 594.3 254 592 C254 589.7 252.3 586.7 252 584 C251.7 581.3 250.7 578 252 576Z" fill="#61b8ff"/>
<path d="M460 452 C462 450.3 466.3 449.3 470 450 C473.7 450.7 478.7 453.7 482 456 C485.3 458.3 486.7 462.3 490 464 C493.3 465.7 498 466.3 502 466 C506 465.7 511 461.7 514 462 C517 462.3 518.7 465 520 468 C521.3 471 522 476 522 480 C522 484 521.3 488.7 520 492 C518.7 495.3 516.7 498.7 514 500 C511.3 501.3 507.3 500.7 504 500 C500.7 499.3 497 497.3 494 496 C491 494.7 489.3 493.7 486 492 C482.7 490.3 477.3 488 474 486 C470.7 484 468.3 482.3 466 480 C463.7 477.7 461.3 475.3 460 472 C458.7 468.7 458 463.3 458 460 C458 456.7 458 453.7 460 452Z" fill="#61b8ff"/>
<path d="M490 572 C492 569.3 496.7 570 498 572 C499.3 574 499.3 580.7 498 584 C496.7 587.3 492 591.3 490 592 C488 592.7 486 591.3 486 588 C486 584.7 488 574.7 490 572Z" fill="#61b8ff"/>
<path d="M451 582 C451.7 581 454.3 581 455 582 C455.7 583 455.7 587 455 588 C454.3 589 451.7 589 451 588 C450.3 587 450.3 583 451 582Z" fill="#61b8ff"/>
<path d="M404 578 C405.7 576.2 411 575 414 575 C417 575 420.2 576.2 422 578 C423.8 579.8 425 583.3 425 586 C425 588.7 423.2 591 422 594 C420.8 597 420 602.7 418 604 C416 605.3 412 603.7 410 602 C408 600.3 407 596.7 406 594 C405 591.3 404.3 588.7 404 586 C403.7 583.3 402.3 579.8 404 578Z" fill="#61b8ff"/>
<path d="M382 576 C383 574.3 388.7 572.7 390 574 C391.3 575.3 391 582.3 390 584 C389 585.7 385.3 585.3 384 584 C382.7 582.7 381 577.7 382 576Z" fill="#61b8ff"/>
<path d="M556 460 C557.3 461.5 560 463.7 564 464 C568 464.3 574.7 462.7 580 462 C585.3 461.3 592.7 459 596 460 C599.3 461 598 468 600 468 C602 468 603.3 461.3 608 460 C612.7 458.7 624 458.7 628 460 C632 461.3 630.3 466 632 468 C633.7 470 636.7 470 638 472 C639.3 474 638.7 478.3 640 480 C641.3 481.7 644 483 646 482 C648 481 651.7 476.3 652 474 C652.3 471.7 650 469.7 648 468 C646 466.3 641.3 466.2 640 464 C638.7 461.8 654 456.5 640 455 C626 453.5 570 454.2 556 455 C542 455.8 554.7 458.5 556 460Z" fill="#61b8ff"/>
<path d="M524 558 C526 556 532.7 555.3 536 556 C539.3 556.7 540.7 560.3 544 562 C547.3 563.7 552 565 556 566 C560 567 564 566.7 568 568 C572 569.3 578.7 572 580 574 C581.3 576 578 578.7 576 580 C574 581.3 571.3 582 568 582 C564.7 582 559.7 580.3 556 580 C552.3 579.7 549.3 580 546 580 C542.7 580 538.7 581.3 536 580 C533.3 578.7 532 574 530 572 C528 570 525 570.3 524 568 C523 565.7 522 560 524 558Z" fill="#61b8ff"/>
<path d="M600 345 C599.2 346.7 611.3 347.5 615 350 C618.7 352.5 618.7 357.8 622 360 C625.3 362.2 630.7 363 635 363 C639.3 363 644.5 361.8 648 360 C651.5 358.2 653.7 355 656 352 C658.3 349 663 344.3 662 342 C661 339.7 657 338.3 650 338 C643 337.7 628.3 338.8 620 340 C611.7 341.2 600.8 343.3 600 345Z" fill="#61b8ff"/>
<path d="M526 262 C527 260 533.3 257.7 536 258 C538.7 258.3 541.7 262 542 264 C542.3 266 540 269 538 270 C536 271 532 271.3 530 270 C528 268.7 525 264 526 262Z" fill="#3dba3d"/>
<path d="M732 282.3 C733.4 280.9 737.4 279.9 739 280.9 C740.6 281.8 742.3 286.1 741.8 288 C741.3 289.9 738.1 292 736.2 292.2 C734.3 292.4 731.3 291 730.6 289.4 C729.9 287.8 730.6 283.7 732 282.3Z" fill="#a6f28f"/>
<path d="M698.2 286.5 C699.6 284.6 704.2 283.9 706.6 285.1 C709 286.3 712.5 291 712.3 293.6 C712.1 296.2 707.6 300.1 705.2 300.6 C702.9 301.1 699.4 298.8 698.2 296.4 C697 294 696.8 288.4 698.2 286.5Z" fill="#3dba3d"/>
<path d="M701 289 C702 288 704.7 287.2 706 288 C707.3 288.8 709.3 292.5 709 294 C708.7 295.5 705.5 297 704 297 C702.5 297 700.5 295.3 700 294 C699.5 292.7 700 290 701 289Z" fill="#a6f28f"/>
<path d="M772.8 275.3 C773.3 274.3 775.5 274.2 776 275 C776.5 275.8 776.5 279 776 280 C775.5 281 773.5 281.8 773 281 C772.5 280.2 772.3 276.3 772.8 275.3Z" fill="#3dba3d"/>
<path d="M696 296 C697 292.7 701.3 287 704 286 C706.7 285 710.3 288 712 290 C713.7 292 714.7 295.7 714 298 C713.3 300.3 710.7 302.7 708 304 C705.3 305.3 700 307.3 698 306 C696 304.7 695 299.3 696 296Z" fill="#a6f28f"/>
<path d="M716 330 C716.3 328 722 328.3 724 330 C726 331.7 728.3 338 728 340 C727.7 342 724 343.7 722 342 C720 340.3 715.7 332 716 330Z" fill="#a6f28f"/>
<path d="M470 250 C473.7 247.7 488.3 247.8 492 250 C495.7 252.2 494 261 492 263.5 C490 266 483.7 264.9 480 265 C476.3 265.1 471.7 266.5 470 264 C468.3 261.5 466.3 252.3 470 250Z" fill="#3dba3d"/>
<path d="M492.5 250 C498 248.5 521.5 248.5 527 250 C532.5 251.5 527.5 256.8 525.5 259 C523.5 261.2 518.5 262.8 515 263.5 C511.5 264.2 508 264.2 504.5 263.5 C501 262.8 496 261.2 494 259 C492 256.8 487 251.5 492.5 250Z" fill="#3dba3d"/>
<path d="M528.5 262 C529.8 260.8 534 259 536 259 C538 259 540 260.5 540.5 262 C541 263.5 540.2 266.8 539 268 C537.8 269.2 534.8 269.8 533 269.5 C531.2 269.2 529.2 267.8 528.5 266.5 C527.8 265.2 527.2 263.2 528.5 262Z" fill="#3dba3d"/>
<path d="M491 284.5 C492.2 283 497.8 281.2 500 281.5 C502.2 281.8 504.5 284.5 504.5 286 C504.5 287.5 502 289.8 500 290.5 C498 291.2 494 291.5 492.5 290.5 C491 289.5 489.8 286 491 284.5Z" fill="#3dba3d"/>
<path d="M474.5 290.5 C475.8 289.5 480.2 288.5 482 289 C483.8 289.5 485.2 292.2 485 293.5 C484.8 294.8 482.2 296.2 480.5 296.5 C478.8 296.8 475.5 296 474.5 295 C473.5 294 473.2 291.5 474.5 290.5Z" fill="#3dba3d"/>
<path d="M533 292 C533.8 289.2 535.2 291 536 293.5 C536.8 296 537.8 303.8 537.5 307 C537.2 310.2 535.5 312.5 534.5 313 C533.5 313.5 531.8 313.5 531.5 310 C531.2 306.5 532.2 294.8 533 292Z" fill="#a6f28f"/>
<path d="M551 289 C552 288.2 555.8 288.2 557 289 C558.2 289.8 559 292.2 558.5 293.5 C558 294.8 555.2 296.5 554 296.5 C552.8 296.5 551.5 294.8 551 293.5 C550.5 292.2 550 289.8 551 289Z" fill="#a6f28f"/>
<path d="M270 518 C271 516 274 512.7 276 512 C278 511.3 281 512.3 282 514 C283 515.7 283 520 282 522 C281 524 278 525.7 276 526 C274 526.3 271 525.3 270 524 C269 522.7 269 520 270 518Z" fill="#3dba3d"/>
<path d="M306 500 C306.7 498 312 498.7 314 500 C316 501.3 318.7 506 318 508 C317.3 510 312 513.3 310 512 C308 510.7 305.3 502 306 500Z" fill="#a6f28f"/>
<path d="M355 620 C355.3 618.8 358.2 618.3 359 619 C359.8 619.7 360.3 622.8 360 624 C359.7 625.2 357.8 626.7 357 626 C356.2 625.3 354.7 621.2 355 620Z" fill="#a6f28f"/>
<path d="M542 276 C542.3 275 544.3 274.3 545 275 C545.7 275.7 546.3 279 546 280 C545.7 281 543.7 281.7 543 281 C542.3 280.3 541.7 277 542 276Z" fill="#0000e1"/>
<path d="M608 155 C609.3 153.7 614 152.7 616 153 C618 153.3 619.5 155.3 620 157 C620.5 158.7 620.3 162 619 163 C617.7 164 613.8 163.3 612 163 C610.2 162.7 608.7 162.3 608 161 C607.3 159.7 606.7 156.3 608 155Z" fill="#0000e1"/>
<path d="M595 167 C596 166 601.5 164.7 604 165 C606.5 165.3 608.3 167.7 610 169 C611.7 170.3 613.5 171.3 614 173 C614.5 174.7 614.3 177.2 613 179 C611.7 180.8 607.5 184.3 606 184 C604.5 183.7 605.3 179.2 604 177 C602.7 174.8 599.5 172.7 598 171 C596.5 169.3 594 168 595 167Z" fill="#0000e1"/>
<path d="M646 257 C646.7 255.7 651 255 652 256 C653 257 652.7 261.7 652 263 C651.3 264.3 649 265 648 264 C647 263 645.3 258.3 646 257Z" fill="#0000e1"/>
<path d="M708 171 C709.3 169 711.3 171.3 714 173 C716.7 174.7 721.7 178.7 724 181 C726.3 183.3 727.7 185 728 187 C728.3 189 727.7 192.3 726 193 C724.3 193.7 720.3 192 718 191 C715.7 190 714 188 712 187 C710 186 706.7 187.7 706 185 C705.3 182.3 706.7 173 708 171Z" fill="#0000e1"/>
<path d="M802 218 L808 217 L809 222 L804 223Z" fill="#0000e1"/>
<path d="M813.3 223.3 C814.1 221.6 818.3 218.9 820 218.3 C821.7 217.8 822.6 218.3 823.3 220 C824 221.7 825.6 226.9 824.2 228.3 C822.8 229.7 816.8 229.1 815 228.3 C813.2 227.5 812.5 225 813.3 223.3Z" fill="#0000e1"/>
<path d="M855.2 278.8 C856.2 277.6 859.6 275.2 862.4 274 C865.2 272.8 869.2 272.8 872 271.6 C874.8 270.4 877.2 268.8 879.2 266.8 C881.2 264.8 882.4 262.1 884 259.6 C885.6 257.1 887.3 254.1 888.8 252 C890.3 249.9 891.1 248 893 247 C894.9 246 897.7 245.5 900 246 C902.3 246.5 905.5 247.7 907 250 C908.5 252.3 909.4 256.4 909.2 259.6 C909 262.8 907 266.2 905.6 269.2 C904.2 272.2 902 274.8 900.8 277.6 C899.6 280.4 899.6 284 898.4 286 C897.2 288 896 289 893.6 289.6 C891.2 290.2 886.8 290 884 289.6 C881.2 289.2 879.6 287.8 876.8 287.2 C874 286.6 869.8 286.6 867.2 286 C864.6 285.4 863 284.4 861.2 283.6 C859.4 282.8 857.4 282 856.4 281.2 C855.4 280.4 854.2 280 855.2 278.8Z" fill="#0000e1"/>
<path d="M826.4 278.8 C827.5 277.4 831.2 276.9 833.6 276.4 C836 275.9 839 275.2 840.8 275.8 C842.6 276.4 843.6 278.3 844.4 280 C845.2 281.7 846 284.2 845.6 286 C845.2 287.8 843.2 289.2 842 290.8 C840.8 292.4 839.8 294.8 838.4 295.6 C837 296.4 835 297.2 833.6 295.6 C832.2 294 831.1 287.8 830 286 C828.9 284.2 827.6 286 827 284.8 C826.4 283.6 825.3 280.2 826.4 278.8Z" fill="#0000e1"/>
<path d="M916.7 236.7 C917.5 235.6 920.6 232.8 921.7 233.3 C922.8 233.9 923.6 238.3 923.3 240 C923 241.7 921.1 243.3 920 243.3 C918.9 243.3 917.2 241.1 916.7 240 C916.2 238.9 915.9 237.8 916.7 236.7Z" fill="#0000e1"/>
<path d="M689.7 279.5 C691.4 278.3 696.1 278.6 696.8 279.5 C697.5 280.4 695.5 283.9 693.9 285.1 C692.2 286.3 687.6 287.4 686.9 286.5 C686.2 285.6 688.1 280.7 689.7 279.5Z" fill="#0000e1"/>
<path d="M706 310 C707.3 308.7 712.3 308.7 716 308 C719.7 307.3 724.7 307 728 306 C731.3 305 734 303 736 302 C738 301 739.3 299 740 300 C740.7 301 741.7 306 740 308 C738.3 310 732.7 310.7 730 312 C727.3 313.3 726.3 315 724 316 C721.7 317 718.7 318 716 318 C713.3 318 709.7 317.3 708 316 C706.3 314.7 704.7 311.3 706 310Z" fill="#0000e1"/>
<path d="M688 284 C688.7 282.7 692.7 280 694 280 C695.3 280 696.7 282.7 696 284 C695.3 285.3 691.3 288 690 288 C688.7 288 687.3 285.3 688 284Z" fill="#0000e1"/>
<path d="M670 300 C671 297 673 297 674 298 C675 299 676.3 303 676 306 C675.7 309 673.3 314.3 672 316 C670.7 317.7 668.3 318.7 668 316 C667.7 313.3 669 303 670 300Z" fill="#0000e1"/>
<path d="M552.5 263.5 C554 262.2 559.8 261.8 563 262 C566.2 262.2 569.5 265 572 265 C574.5 265 575.5 262.5 578 262 C580.5 261.5 584.8 261 587 262 C589.2 263 590 266 591.5 268 C593 270 594.5 272.2 596 274 C597.5 275.8 599.5 276.8 600.5 278.5 C601.5 280.2 602.2 282 602 284.5 C601.8 287 600.5 291.8 599 293.5 C597.5 295.2 594.8 295 593 295 C591.2 295 590 293.5 588.5 293.5 C587 293.5 585.8 294.5 584 295 C582.2 295.5 580 296.8 578 296.5 C576 296.2 573.8 295 572 293.5 C570.2 292 569.2 289.2 567.5 287.5 C565.8 285.8 563.2 284.5 561.5 283 C559.8 281.5 557.2 280.2 557 278.5 C556.8 276.8 560.5 274 560 272.5 C559.5 271 555.2 271 554 269.5 C552.8 268 551 264.8 552.5 263.5Z" fill="#0000e1"/>
<path d="M606.5 275.5 C607.5 274.5 610.2 274 612.5 274 C614.8 274 618.4 273.7 620 275.5 C621.6 277.3 622 281.8 622 285 C622 288.2 621.3 292.8 620 295 C618.7 297.2 616 297.2 614 298 C612 298.8 610 300 608 299.5 C606 299 602.5 297 602 295 C601.5 293 603.8 289.2 605 287.5 C606.2 285.8 609.2 285.8 609.5 284.5 C609.8 283.2 607 281.5 606.5 280 C606 278.5 605.5 276.5 606.5 275.5Z" fill="#0000e1"/>
<path d="M590 316 C591.5 314.2 596.5 315 599 314.5 C601.5 314 602.8 313.8 605 313 C607.2 312.2 610.3 311.2 612.5 310 C614.7 308.8 616.1 308.3 618 306 C619.9 303.7 622.3 298.3 624 296 C625.7 293.7 627 291.3 628 292 C629 292.7 630.7 297 630 300 C629.3 303 625.3 306.7 624 310 C622.7 313.3 622.7 316 622 320 C621.3 324 622.3 331.7 620 334 C617.7 336.3 612 334.5 608 334 C604 333.5 599 332.5 596 331 C593 329.5 591 327.5 590 325 C589 322.5 588.5 317.8 590 316Z" fill="#0000e1"/>
<path d="M458 318 C460 314.7 465 315 468 314 C471 313 473.7 312 476 312 C478.3 312 480 313.8 482 314 C484 314.2 486.3 312.7 488 313 C489.7 313.3 490.5 315 492 316 C493.5 317 495.7 318 497 319 C498.3 320 499.5 320.2 500 322 C500.5 323.8 500.5 327.5 500 329.5 C499.5 331.5 499 333.2 497 334 C495 334.8 490.5 334.5 488 334 C485.5 333.5 484 331.2 482 331 C480 330.8 478.7 332 476 332.5 C473.3 333 468.7 333.1 466 334 C463.3 334.9 461.7 338 460 338 C458.3 338 456.3 337.3 456 334 C455.7 330.7 456 321.3 458 318Z" fill="#0000e1"/>
<path d="M534 404 C535 402.3 539.7 401 542 400 C544.3 399 546.7 397.7 548 398 C549.3 398.3 550 400 550 402 C550 404 549.3 408.3 548 410 C546.7 411.7 544 412 542 412 C540 412 537.3 411.3 536 410 C534.7 408.7 533 405.7 534 404Z" fill="#0000e1"/>
<path d="M254 514 L260 512 L265 516 L260 521 L255 520Z" fill="#0000e1"/>
<path d="M239 516 C239.3 515.2 241.5 514.3 242 515 C242.5 515.7 242.3 519.2 242 520 C241.7 520.8 240.5 520.7 240 520 C239.5 519.3 238.7 516.8 239 516Z" fill="#0000e1"/>
<path d="M260 591 C260.8 590.5 264.8 589.8 266 590 C267.2 590.2 267.8 592 267 592.5 C266.2 593 262.2 593.2 261 593 C259.8 592.8 259.2 591.5 260 591Z" fill="#0000e1"/>
<path d="M260 590.5 L266 590.5 L267 592.4 L261 593Z" fill="#0000e1"/>
<path d="M538 572 L544 572 L552 578 L564 580 L566 582 L552 582 L548 584 L538 576Z" fill="#0000e1"/>
<path d="M648 272 C649 271 651.7 270.2 654 270 C656.3 269.8 659.7 270.5 662 271 C664.3 271.5 667.2 271.8 668 273 C668.8 274.2 668.3 276.5 667 278 C665.7 279.5 661.5 280.3 660 282 C658.5 283.7 658.3 286 658 288 C657.7 290 659 292.5 658 294 C657 295.5 654.2 296.7 652 297 C649.8 297.3 646.5 297.2 645 296 C643.5 294.8 643 292.3 643 290 C643 287.7 644.2 284.3 645 282 C645.8 279.7 647.5 277.7 648 276 C648.5 274.3 647 273 648 272Z" fill="#0000e1"/>
<path d="M588.6 315 C592.1 311.1 605.5 309.8 612 309.8 C618.5 309.8 622 313.7 627.6 315 C633.2 316.3 639.7 317.6 645.8 317.6 C651.9 317.6 659.2 315.9 664 315 C668.8 314.1 672.2 311.1 674.4 312.4 C676.6 313.7 678.7 320.2 677 322.8 C675.3 325.4 668.8 327.1 664 328 C659.2 328.9 653.6 327.1 648.4 328 C643.2 328.9 638.9 331.9 632.8 333.2 C626.7 334.5 618.9 335.8 612 335.8 C605.1 335.8 595.1 336.7 591.2 333.2 C587.3 329.7 585.1 318.9 588.6 315Z" fill="#0000e1"/>
<path d="M884 268 L888.8 266.8 L891.8 267.4 L890 274 L885.2 275.8Z" fill="#fa00fa"/>
</g>
<path d="M330 216 L330 230 L325 242 L318 252 L308 262 L298 269 L290 275 M302 278 L315 270 L330 271 L342 278 L352 288 L360 297 L370 300 L380 298 L392 296 L400 292 M372 228 L370 240 L368 250 L370 265 L378 275 L385 280 L388 288 L385 295 M420 235 L422 250 L420 270 L415 282 L410 292 L400 292 L392 290 M332 315 L338 310 L350 305 L370 302 L388 300 L405 298 L420 295 L430 292 L442 288 L450 280 M332 315 L334 330 L335 340 L333 345 M342 325 L355 320 L370 318 L385 320 L400 325 L415 325 L425 328 L435 322 M422 275 L430 280 L442 275 L445 282 L448 295 L445 305 L442 315 M197 495 L220 495 L240 494 L262 492 M225 522 L240 520 L250 515 L265 514 L275 512 L288 510 L296 516 L298 526 M195 515 L210 515 L212 528 L228 530 L230 535 L235 540 L230 550 L238 555 L240 562 M150 522 L165 528 L180 532 L190 538 L195 545 L198 560 L195 570 L190 575 M150 550 L165 548 L178 550 L180 562 L182 572 L190 578 L200 580 L210 575 L220 575 L230 575 L240 572 L250 570 M152 555 L150 570 L152 582 L152 595 L155 605 M240 560 L252 558 L265 555 L280 550 L295 545 L308 538 L320 530 L330 528 L340 525 M235 465 L245 470 L255 478 L260 488 M270 482 L270 465 L280 460 L288 445 L290 432 L288 420 M290 480 L302 470 L315 462 L325 458 L340 455 M290 445 L305 448 L312 442 L318 430 L315 420 M292 510 L305 502 L315 495 L328 495 L335 492 M305 535 L315 525 L330 518 L340 515 M250 575 L260 580 L270 570 L285 572 L290 580 L292 590 L295 605 M255 580 L255 595 L260 610 M185 595 L185 610 L190 625 M215 595 L220 610 L222 625 M231 615 L243 621 L258 618 L267 612 L276 603 L285 600 L294 594 L294 579 L291 570 M231 618 L234 630 L240 639 L249 645 L258 651 M210 594 L219 597 L231 597 L234 609 M327 615 L330 630 L330 648 L324 654 M342 555 L348 564 L345 579 L342 591 M360 591 L372 597 L384 600 L390 612 L396 624 L402 630 M390 579 L408 573 L420 576 L432 585 L444 591 M426 609 L429 627 L417 636 L411 645 M366 606 L375 615 L378 630 L375 648 L372 660 L378 666 M400 404.2 L415.6 396.4 L431.2 399 L446.8 396.4 L462.4 393.8 L472.8 404.2 L478 417.2 L485.8 425 L498.8 427.6 L509.2 425 L522.2 427.6 L530 435.4 L527.4 445.8 M446.8 360 L449.4 375.6 L446.8 386 L444.2 396.4 M485.8 425 L493.6 406.8 L496.2 391.2 L498.8 375.6 L504 360 M545.6 435.4 L556 427.6 L566.4 422.4 L576.8 417.2 L587.2 412 L597.6 406.8 M556 427.6 L561.2 443.2 L561.2 458.8 L558.6 469.2 M592.4 419.8 L602.8 427.6 L618.4 432.8 L628.8 438 M566.4 464 L582 458.8 L597.6 464 L608 469.2 L621 464 L628.8 461.4 M592.4 458.8 L597.6 474.4 L602.8 490 M462.4 482.2 L478 490 L493.6 495.2 L509.2 500.4 L522.2 505.6 L530 510.8 L535.2 521.2 L540.4 531.6 L550.8 536.8 L566.4 536.8 L582 531.6 M457.2 471.8 L462.4 482.2 L459.8 495.2 L462.4 505.6 L465 521.2 L465 536.8 M426 513.4 L439 510.8 L452 516 L465 521.2 L483.2 518.6 L498.8 513.4 L514.4 510.8 L524.8 516 L535.2 521.2 M498.8 513.4 L498.8 529 L493.6 542 L488.4 563 M514.4 526.4 L522.2 542 L519.6 563 M556 539.4 L561.2 552.4 L569 563 M634 360 L628.8 375.6 L621 391.2 L608 399 M602.8 365.2 L597.6 375.6 L592.4 388.6 L589.8 399 M649.6 360 L647 375.6 L641.8 388.6 L636.6 399 L634 412 M643.2 359.2 L658.8 354 L669.2 348.8 L679.6 335.8 L690 328 L700.4 325.4 L710.8 328 M612 364.4 L627.6 361.8 L643.2 359.2 M653.6 359.2 L651 372.2 L648.4 385.2 L645.8 395.6 L643.2 406 M671.8 343.6 L674.4 359.2 L671.8 374.8 L671.8 390.4 L674.4 403.4 L684.8 411.2 L695.2 419 M695.2 333.2 L695.2 348.8 L700.4 364.4 L708.2 374.8 M671.8 374.8 L684.8 374.8 L697.8 380 L710.8 385.2 M612 364.4 L604.2 374.8 L599 385.2 L591.2 395.6 M575.6 374.8 L586 372.2 L601.6 369.6 L612 364.4 M627.6 406 L638 395.6 L653.6 390.4 L669.2 387.8 M726.4 354 L742 348.8 L752.4 351.4 L762.8 348.8 L773.2 343.6 L786.2 338.4 L799.2 333.2 M721.2 372.2 L736.8 364.4 L747.2 359.2 L757.6 356.6 M736.8 328 L747.2 330.6 L757.6 335.8 L762.8 348.8 L760.2 364.4 L757.6 380 M768 315 L773.2 328 L773.2 343.6 M781 317.6 L788.8 315 L799.2 317.6 M783.6 359.2 L794 364.4 M612 395.6 L617.2 411.2 L622.4 426.8 M586 416.4 L596.4 411.2 L612 413.8 L625 419 M596.4 411.2 L593.8 432 L591.2 447.6 M651 426.8 L664 432 L674.4 432 L684.8 426.8 M704 226 L709.1 224.8 L715.9 223.1 L722.1 222.9 L725.8 223.5 L729.5 223.7 M708 236 L711.8 234.5 L717.5 236.6 L721.6 235.7 L728.2 238.4 L734.6 238.4 M703 246 L711.4 244.2 L719.2 243.7 L723.4 242.3 L728.4 244.4 L732.8 245.3 M712 252 L718.7 251.9 L724.9 250.2 L728.7 249.2 L735.6 249.3 L740.7 250.3 M716 224 L721.8 223.5 L729.2 225 L734 225.9 L740.1 228.2 L747.2 227.7 M720 222 L722.9 226.1 L723 233.4 L721.8 239.3 L719.9 246.2 L721.8 252.5 M728 224 L730.4 229.1 L731.9 235.5 L732.8 241.3 L735 249.5 L735.3 256.4 M734 230 L732.3 237 L733.5 245.5 L735.6 250.4 L735.6 257.2 L733.7 263 M744 226 L742.8 230.1 L741.1 237.4 L739.8 242.2 L739.7 250 L738.1 255.8 M750 232 L750.7 239.9 L752.8 247.7 L752.2 253.3 L752 261.2 L754.8 265.5 M724 240 L727.4 236.7 L731 234.6 L736.5 231.4 L739 229 M730 248 L734.3 246.3 L741.6 245.3 L746.7 243.9 L752.6 239.6 M742 244 L749 243.4 L755.9 242.9 L760.3 240.4 L763.3 239.1 M640 206 L652 218 L667 221 L682 218 M625 260 L640 254 L655 251 L670 254 M436 296 L454 290 L472 293 M598 320 L610 326 L625 332 M860 192 L861 210 L862 230 L860 245 M872 192 L873 215 L874 235 M888 192 L888 220 L890 245 M898 192 L900 215 L903 240 M737.6 284.4 L752 279.6 L766.4 274.8 L780.8 270 L790.4 260.4 M785.6 260.4 L788 274.8 L790.4 289.2 M814.4 262.8 L814.4 279.6 L816.8 294 M833.6 260.4 L836 274.8 M848 265.2 L852.8 284.4 M752 140 L756 152 L759.2 164 L766.4 176 M776 150 L778 160 L785.6 172 M750 170 L758 176 L770 178 L782 174 L796 172 M468 208 L472 218 L480 226 L486 236 L490 248 L494 258 M506 186 L504 200 L506 216 L508 236 L510 248 L514 256 L526 252 L534 250 L544 246 L556 240 M540 176 L544 190 L548 206 L554 220 L556 226 L560 228 L570 230 L580 232 L590 228 L598 226 L606 232 L612 240 M570 190 L572 200 L580 206 L588 212 L588 220 L590 228 M556 240 L560 246 L570 250 L580 248 L592 248 L600 252 L606 260 L614 266 L624 264 M450.8 207.6 L452 219.6 L455.6 232.8 L447.2 231.6 L438.8 230.4 L442.4 243.6 L447.2 254.4 M476 264 L478 276 L484 288 L490 300 M528 248 L526 260 L526 268 M564 264 L572 268 L580 266 L588 264 M596 176 L600 186 L600 200 L596 212 M280 378 L288 380 L302 368 L306 360 M302 368 L306 384 L310 400 L316 414 L320 420 L324 416 L336 412 L346 410 L354 410 L356 394 L354 386 L346 380 L336 372 L330 360 M354 386 L364 388 L370 384 L368 368 L370 360 M316 420 L314 430 L312 444 L314 452 L300 446 L292 444 L284 454 M356 410 L360 422 L362 430 L368 434 L376 438 L388 436 L394 428 L400 420 L394 416 M360 430 L354 444 L356 452 L362 460 M446 360 L450 380 L444 394 L432 398 L424 398 L412 402 L406 400 M444 394 L452 398 L460 396 L472 406 L480 420 M348 464 L356 468 L368 462 L372 468 L364 478 L368 484 L356 488 L360 496 M368 484 L384 482 L394 478 L404 468 L416 464 L428 460 M394 478 L392 492 L396 504 L400 516 M534.4 253 L547 256.6 L559.6 254.8 L570.4 253 L579.4 254.8 L588.4 256.6 L595.6 258.4 L599.2 263.8 L610 265.6 L620.8 267.4 M570.4 249.4 L581.2 249.4 L592 251.2 L597.4 254.8 M579.4 267.4 L575.8 281.8 L574 289 M593.8 269.2 L590.2 280 L586.6 289 M559.6 294.4 L566.8 296.2 L577.6 294.4 M646 242.2 L656.8 247.6 L667.6 245.8 L671.2 240.4 M656.8 247.6 L662.2 256.6 L664 267.4 L660.4 276.4 M626.2 303.4 L635.2 307 L646 310.6 L656.8 312.4 L667.6 312.4 L678.4 310.6 M626.2 303.4 L624.4 312.4 L628 321.4 M610 317.8 L613.6 325 L611.8 332.2 M559.6 308.8 L566.8 314.2 L570.4 325" stroke="#5f5f5f" stroke-width="0.9" fill="none" stroke-linejoin="round"/>
<path d="M290 345 L293.8 345.2 L297.5 345.3 L301.2 345.4 L305 345 L309 343.7 L312.7 341.6 L316.5 339.9 L320 337.5 L323 342 L326.8 339.9 L331 339 L335 337.5 L337.5 341.6 L341 345 L344 349.5 L348.1 348.7 L352.1 348 L356 346.5 L360.3 344.5 L365 343.5 L366.5 346.9 L368.3 350.1 L369.4 353.6 L371 357 L375.5 358.6 L380 360 L384.2 360.9 L388.1 362.6 L392 364.5 L396 364.2 L400 365.1 L404 364.5 L406.8 367 L410 369 L413 375 L419 372 L418.2 368.4 L418.8 364.8 L417.6 361.2 L418 357.6 L417.5 354 L420.9 350.6 L425 348 L428.8 347.3 L432.5 348.5 L436.2 347.6 L440 348 L446 346.2 L452 348.6 L458 351 L464 352.2 L468 351.8 L472.1 352.9 L476.1 352.2 M476.1 355.8 L478.5 349.8 L480.1 346.3 L480.9 342.6 L480.7 338.9 L479.7 335.4 L479.7 331.8 L479.7 328.1 L477.3 323.3 L478.2 319.6 L479.7 316.1 L482.1 311.3 L484.7 308.4 L488.1 306.5 L489.3 301.7 L484.5 298 L484.5 293.2 L490.5 292 L495.4 291.6 L500.2 290.8 L503.8 289 L507.4 287.2 L511.3 283.9 L514.6 280 L517.3 277.2 L520.5 274.9 L523 272 L526.9 270.7 L531.1 270.4 L535 269 L537.8 272.2 L541 275 L542.6 279.5 L544 284 L546 287 L547.8 290.1 L550 293 L554.6 294.1 L559 296 L562 298.1 L564.8 300.4 L568 302 L571.2 304.8 L573.7 308.3 L577 311 L581.4 312.7 L586 314 L590.5 314.5 L595 314 L597.9 311.8 L600.7 309.5 L604 308 L607.3 305.3 L610 302 L613.3 299.3 L616 296 L617.9 292 L619.5 287.7 L622 284 L622.6 279.9 L624.2 276 L625 272 L626.2 267.4 L628 263 L631.4 260.4 L634.1 257.1 L637 254 L634 248 L631.7 245.2 L630.2 241.9 L628 239 L625.8 236.1 L624.5 232.7 L622 230 L620 226.6 L617.2 224 L615 220.9 L612.6 217.8 L610 215 L608.9 210.4 L607 206 L604.5 202.5 L600.5 200.5 L598 197 L594.9 194.9 L592.1 192.4 L588.8 190.5 L586 188 L582.2 187.9 L578.5 188.6 L574.8 187.5 L571 188 L567.4 187.4 L563.7 187.3 L560.2 186 L556.6 185.9 L553 185 M482.1 311.3 L488.1 313.7 L492.9 316.1 L497.8 316.1 L502.6 318.5 L506.2 323.3 L507.4 328.1 L506.2 334.2 L505 340.2 L507.4 343.8 L511 343.6 L514.6 343.8 L518.2 347.4 L519.3 350.9 L519.4 354.6 L524.2 357 L527.8 358.4 L531.5 359.4 L536.3 361.8 L541.1 364.2 L544.7 367.8 L548.3 371.5 L552.5 373.2 L556 376 L559 378 L562.1 379.8 L565.3 381.5 L568 384 L569.6 387.2 L571.8 390.1 L572.9 393.6 L574.9 396.5 L576 400 L580.1 400.4 L584 401.9 L587.9 403.4 L592 404 L595.9 402.7 L599.9 402 L604 401.8 L608.1 401.4 L612 400 L616 401.1 L620 401.9 L623.8 403.6 L628 404 L630.2 406.9 L630.8 410.6 L633.1 413.5 L634.8 416.6 L636 420 L637.3 423.9 L637.9 427.9 L638 432.1 L639.6 435.9 L640 440 L642.4 444.6 L645 449 M392 364.5 L394.3 368.1 L396 372 L398 378 L400.5 381.5 L404 384 L402.5 388.2 L399.7 391.9 L398 396 L397 400.2 L395.3 404.1 L393.5 408 L395.1 412.8 L398 417 L402.1 417.6 L406 419.2 L410 420 L414 421.9 L418 423.9 L422 426 L423 430 L424.4 433.9 L425 438 L426.1 442.2 L428.5 445.8 L429.5 450 L431.3 453.9 L433.1 457.8 L434 462 M434 462 L438 462.9 L442 463.8 L446 465 L448.6 461.6 L452 459 L454.7 456.3 L455.9 452.6 L458.8 450 L461 447 L467 450 L470.9 451.5 L475.1 451.4 L479 453 L482.7 453.8 L486.5 454.7 L490.4 454.6 L494 456 L498.1 457.8 L501.9 460.3 L506 462 L510 459.9 L514.1 458.3 L518 456 L521.2 454.2 L524.5 453 L528 452 L531.1 454.3 L533.3 457.3 L536 460 L536.8 463.6 L538.5 466.7 L540 470 L541 473.5 L542.8 476.6 L544 480 L545.7 483.5 L548.5 486.4 L550 490 L554.1 491.2 L557.9 493.2 L561.9 494.8 L566 496 L567.4 499.3 L569.2 502.5 L570 506 L572.3 509.2 L574.3 512.5 L576 516 L579.9 513.7 L584.2 512.4 L588 510 L593.1 510.6 L598 512 L601 508 M434 462 L434.9 466 L436 470 L434.1 473.1 L432 476 L429.5 479.1 L427.5 482.6 L424.4 485.3 L422 488.5 L420 492 L418.2 495.1 L417.2 498.6 L415.2 501.6 L413.8 504.9 L412 508 L413.3 511.9 L413.4 516.2 L414.3 520.2 L416 524 L415 527.5 L412.3 530.2 L411.1 533.5 L409.7 536.9 L408 540 L405.6 543.5 L402.5 546.5 L400 550 L398.1 554 L396 558 L393.2 560.6 L390.6 563.4 L388.6 566.7 L385.3 568.9 L383 572 L379.5 573.6 L376.3 575.8 L373.4 578.4 L370.7 581.2 L367.6 583.4 L364 585 L361.1 587.4 L357.3 588.5 L354.5 591.2 L351.3 593.2 L348 595 L344.5 596.3 L341.7 598.8 L338.4 600.3 L335.2 602.3 L332 604 L328.8 606 L325.2 606.7 L321.6 607.8 L318.6 610 L315 611 L311.4 612.9 L307.5 614.1 L304 616.1 L300 617 L296.3 619.8 L292.5 622.5 M622 284 L624.8 278.4 L629.6 275.2 L634.4 273.5 L639.2 272 L644 271.7 L648.8 271.2 L652.7 272.2 L656.8 272 L658.4 275.2 L660 278.4 L664.8 281.6 L668 280 L671.2 278.4 L676 277.3 L680.8 276 L685.6 275.2 L687.6 278.2 L688.8 281.6 L687.2 288 L686.1 292.3 L684.9 296.5 L684 300.8 L685.6 304 L690.4 307.2 L693.4 309.9 L696.8 312 L700 313.6 L703.5 314.7 L706.4 316.8 L712.8 318.4 L719.2 316.8 L725.6 315.2 L728.7 313.4 L732 312 L736.8 307.2 L737.9 303.7 L740 300.8 M732 312 L730.4 316.8 L728.8 323.2 L728.8 328 L728.8 332.8 L730.4 339.2 L729.4 344 L728.8 348.8 L726.2 351.9 L724 355.2 L722.9 360.3 L720.8 365 L720.8 368.9 L719.6 372.5 L719 376.3 L718 380 L717.1 383.7 L716.7 387.5 L716.4 391.2 L716 395 L715.4 398.7 L714.8 402.5 L715 406.3 L714 410 L714.7 414 L715.8 417.9 L716 422 M685.6 275.2 L688.6 271.8 L692.2 269.1 L695.2 265.8 L697.2 262.4 L699.1 259.1 L700.4 255.4 L700 251.5 L700 247.6 L699.9 243.7 L700.4 239.8 L700 234.6 L700.4 229.4 L698 226.6 L695.2 224.2 L693.4 220.5 L692.6 216.4 L692.6 211.2 L692.6 206 L697.8 205.6 L703 206 L707.1 208.4 L710.8 211.2 L713.5 213.7 L716 216.4 L719.2 219.4 L722.8 221.7 L726.4 224.2 L730.2 225.3 L733.5 227.4 L736.8 229.4 L739 232.6 L739.8 236.6 L742 239.8 L740.7 243.2 L739.9 246.6 L739.4 250.2 L738.9 255.4 L739.4 260.6 M725 282 L728 285.7 L730 290 L733.2 291.6 L736.6 292.9 L740 294 L745.2 293.1 L750 291 L753.8 288.2 L758 286 L759.7 281.8 L762 278 L761.3 272.9 L760 268 L756.1 265.8 L751.9 264.2 L748 262 L744.6 261.2 L741 261.1 L737.6 260.4 M739.4 260.6 L742.9 259.9 L745.6 257.4 L749.3 257 L752.4 255.4 L755.4 253 L759.3 252.1 L761.8 249 L765.4 247.6 L768.9 246.1 L772 243.9 L775.4 242.2 L778.4 239.8 L782.2 238.7 L785.2 236 L788.8 234.6 L793.2 235.2 L797.4 236.6 L801.8 237.2 L804.6 239.9 L807.2 242.8 L809.6 246 L814.3 244.4 L819.2 243.6 L821.2 240.6 L822.9 237.4 L824 234 L825.4 230.1 L825.6 225.9 L827 222 M824 234 L828.8 232.6 L833.6 231.6 L836.8 233.2 L840.1 234.7 L843.2 236.4 L844.9 239.6 L846.5 242.7 L848 246 L852.8 246.2 L857.6 246 L861 247.3 L863.9 249.4 L867.2 250.8 L872.3 252.3 L876.8 255 L881.6 255 L886.4 255.6 L891.1 254.2 L896 253.2 L900.8 252.7 L905.6 253.2 L909.8 253.4 L914 253 M876.8 255 L876.8 259 L876.4 262.9 L876.2 266.9 L877.1 270.8 L876.8 274.8 L875.6 278.7 L874.9 282.7 L874.4 286.8 M705.6 146.2 L705.2 149.8 L703.6 153.1 L703 156.6 L704.1 160 L705.1 163.4 L705.6 167 L706.5 171.3 L707.3 175.7 L708.2 180 L710.8 182.6 L713.4 185.2 L716 187.8 L719.6 189.2 L723.1 191 L726.4 193 L731.6 193.3 L736.8 193 L739.2 190.2 L742 187.8 L744.8 185.4 L747.2 182.6 L750.6 183.9 L754 184.8 L757.6 185.2 L760.8 187.5 L764.7 188.3 L768 190.4 L770.9 194.1 L773.2 198.2 L776.8 196.8 L780.2 194.8 L783.6 193 L786.9 190.9 L790.6 189.8 L794 187.8 L797.6 187.4 L801 186.5 L804.4 185.2 M736.8 146.2 L736.6 150.4 L736.4 154.5 L736.8 158.7 L736.8 162.8 L736.8 167 L738.2 170.9 L738.7 175 L741 178.6 L742 182.6 M716 216.4 L718.5 213.6 L720.2 210.3 L722 207 L725.5 206 L728.9 204.9 L732 203 L736 202.3 L740 202.5 L744 202 L747.9 203.2 L751.9 203.8 L756 204 L761 203.6 L766 203 L769.3 200.2 L773.2 198.2 M632.8 245 L635.9 243.3 L639.4 242.6 L642.6 241.3 L645.8 239.8 L649 238.5 L652.2 236.8 L655.7 236.3 L658.8 234.6 L662.5 233.3 L665.7 231.1 L669.2 229.4 L673.5 229.4 L677.9 229 L682.2 229.4 L685.7 226.2 L690 224.2" stroke="#383838" stroke-width="2" fill="none" stroke-linejoin="round"/>
<path d="M95 564 L96.8 560.4 L100.6 558.5 L102.5 555 L106 553 L108.8 550 L113.3 549 L117.9 549.2 L122.5 548.8 L126.7 549 L130.8 549.9 L135 550 L138.8 549.8 L142.1 547.4 L146 547.5 L145.4 543.6 L147.8 540.1 L147.3 536.2 L148.6 532.6 L147.3 528.6 L149 525 L151 520 L154.8 517.4 L159 515.4 L162.5 512.5 L164.1 509 L167.6 506.9 L169.7 503.7 L171 500 L175 497 L180 496 L183.7 493.3 L188.4 492.8 L192.5 491 L196.4 493.5 L201 494 L204.1 491.3 L207.5 489 L209.4 484.8 L212.3 481.2 L215 477.5 L217.2 473.4 L220.5 470.4 L224 467.5 L226.7 464.9 L229.7 462.5 L232.5 460 L233.1 456.5 L234.2 453.1 L236 450 L234.9 445.7 L235.1 441.3 L234.8 437 L234.4 433.3 L233.8 429.6 L235 426 L240.3 421.5 L240.3 415 L243.5 411.7 L250.1 412.8 L253.9 410.1 L256.6 406.3 L259.9 403.1 L263.1 399.7 L266.6 397.8 L269.7 395.4 L271.8 388.9 L270.6 384.6 L270.8 380.2 L274 374.7 L278.8 374.2 L282.7 371.4 L285.5 374.3 L289.3 375.8 L288 371.5 L288.2 367.1 L288.2 362.7 L289.3 358.4 L289.3 354 L289.3 349.6 L288.2 345.3 L290.4 338.8 L288.2 332.3 L288.7 327.8 L287.1 323.5 L286.2 319.9 L286.4 316.1 L284.9 312.7 L283.6 309.2 L281.6 306.1 L278.5 303.2 L276.2 299.6 L277.3 293.1 L275.3 289.7 L272.9 286.5 L275.7 283.8 L277.6 280.6 L279 277 L281.1 273.9 L282 270.1 L285 267.5 L287.6 264.5 L291.5 263 L294 260 L291.8 257 L289.3 254.2 L288.1 250.6 L286 247.5 L286.3 243.6 L286.1 239.6 L285.3 235.7 L285.3 231.8 L285.3 227.9 L285.8 223.9 L285 220 L288 217 L290.8 213.8 L294 211 L297.4 209.3 L300.3 206.6 L303.7 204.9 L307.8 204.6 L311 202.5 L314.3 205.7 L318.6 207 L322.5 209 L325.9 210.5 L329 212.5 L333.6 213.5 L337.5 216 L340 219 L341.6 222.7 L345 225 L349.4 223.6 L353.4 221.1 L357.5 219 L360.9 221.3 L365.2 221.4 L368.7 223.5 L372.5 225 L375.7 227 L379.4 227.2 L383 227.9 L386.7 228.5 L390 230 L394.2 229.3 L398.5 229.4 L402.5 227.5 L406.5 227.1 L410 229 L411.5 225.5 L412.4 222 L413.3 218.4 L413.8 214.7 L414 211 L417.5 210 L420.4 207.6 L423.7 206 L426.7 204 L430 202.5 L432.9 199.9 L437.1 200 L440 197.5 L442.9 199.8 L446.4 201.2 L449 204 L453 203 L457 202 L460.9 200.7 L465 200 L468.3 197.4 L472 195.6 L475.7 193.5 L479 191 L481.7 188 L484 184.6 L486.6 181.5 L490.2 180 L493.9 180.1 L497.6 180.4 L502.2 180.7 L506.4 182.6 L509.5 180.6 L512.8 178.9 L515.2 176 L519 173.2 L521.8 169.4 L527.3 167.2 L529.5 170.5 L532.8 172.7 L536.9 175.1 L541.6 176 L548.2 173.8 L549.9 170.7 L552.6 168.3 L557 168.3 L554.2 170.5 L552.6 173.8 L551.5 180.4 L552.6 187 L559.2 185.9 L563.6 183.7 L570.2 181.5 L572.7 179 L574.6 176 L576.8 169.4 L574.6 162.8 L574.7 158.2 L576.8 154 L575.6 150.3 L575.6 146.7 L576.8 143 L576.7 139.2 L574.7 135.8 L574.6 132 L572.9 128.1 L573.4 123.9 L572.4 119.9 L576.8 119 L581.2 118.8 L586 119.5 L590 122.1 L594.9 120.7 L599.9 121 L600.2 124.7 L601.4 128.3 L601 132 L599.9 136.4 L604 138.1 L607.6 140.8 L612 141.7 L616.4 141.4 L620.8 141.9 L625.3 143.2 L629.6 145.2 L631.9 148.5 L634 151.8 L637.5 153.1 L639.5 156.2 L638.4 160.6 L642.9 161.4 L647.2 162.8 L651.6 162.1 L656 161.7 L660.1 163.7 L663.9 166.1 L667 169.4 L673.6 167.2 L677.9 168.7 L682.4 168.3 L686.4 168.7 L692.8 171.2 L696.6 172.5 L701.8 171.2 L703.1 166.8 L704.3 162.3 L703 157.9 L703 153.3 L704.5 149.5 L705.6 145.6 L712 145 L717.1 146.2 L718.4 150.7 L723.5 150.7 L727.4 152 L733.8 151.4 L736.3 157.1 L740.2 154.6 L742.7 150.7 L744 145.6 L747.9 143 L753 139.2 L756.8 140.5 L763.2 139.2 L769.6 140.5 L773.6 140.6 L777.3 139.2 L782.4 137.9 L787.6 136 L791.4 134.6 L795.4 135.4 L798 138.8 L798.4 143 L799.5 147 L798.4 151.2 L799.2 155.3 L803 156.9 L803 163 L803.1 167 L801.5 170.7 L801 174.6 L801.5 178.4 L796.9 183 L792.3 186 L795.4 192.2 L801.5 195.3 L805.4 195.7 L809.2 195.3 L813.1 194.3 L816.9 193 L823.8 192.2 L823.8 196.8 L817.6 199.9 L816.1 206 L818.4 210.6 L821.9 213.2 L824.5 216.8 L827 220.5 L829.6 217.5 L830.8 213.8 L831.7 210 L833.4 205.9 L835 201.7 L836.1 198.2 L838.4 195.3 L841.6 193.7 L844.5 191.4 L848.3 190.8 L852.2 190.8 L856 189.8 L859.9 189.9 L863.5 190.2 L867.2 188.8 L870.8 189.3 L874.4 190.9 L878.1 190.6 L881.7 189.7 L885.3 189.2 L888.8 190.6 L892.4 189.2 L896 190.8 L899.6 190.3 L903.1 189.5 L906.7 189.7 L911.8 189.7 L916.7 190.8 L920.6 191.9 L923.3 195 L925.5 198.4 L929.7 199.7 L931.7 203.3 L932.7 207.5 L934 211.5 L936.7 215 L937.8 218.4 L939.9 221.4 L939.6 225.3 L941.7 228.3 L938.2 231.9 L936.7 236.7 L933.5 239.7 L931.1 243.4 L928.3 246.7 L924.3 249.8 L920 252.5 L914.2 253.3 L912.4 256.8 L910 260 L908 262 L906.8 265.9 L904.4 269.2 L902.2 273.2 L900.8 277.6 L899.8 281.8 L898.4 286 L896 288.4 L892.4 289.1 L888.8 288.4 L885.2 289.3 L881.6 288.4 L876.8 286 L873.3 285 L869.6 284.8 L864.8 284.8 L861.2 282.4 L857.6 280 L852.8 279.4 L848 281.2 L845.6 284.8 L843.2 290.8 L839.6 294.4 L834.8 295.6 L832.4 294.4 L828.8 289.6 L828.1 293.4 L826.4 296.8 L824 294.4 L821.6 288.4 L818 284.8 L814.4 286 L810.8 287.2 L804.8 289.6 L800 293.2 L796.8 295.3 L793.3 296.7 L788.3 300 L790.8 305 L795 306.7 L800 310 L800.8 315 L799.5 319.1 L800 323.3 L798.2 327.3 L798.3 331.7 L801.6 333.4 L803.3 336.7 L806.7 340 L808.6 343.1 L809.2 346.7 L808.3 353.3 L809.9 356.5 L810.8 360 L808.3 365 L803.3 368.3 L800 373.3 L796.1 374 L793.3 376.7 L790 380 L783.3 378.3 L778.3 380.8 L773.3 376.7 L770.2 374.8 L766.7 374.2 L762.5 375 L758.3 375 L755 376.7 L753.3 383.3 L749.3 384.8 L745 385 L738.3 386.7 L736.3 389.8 L735 393.3 L733.4 396.6 L733.3 400.2 L732.2 403 L729.1 405.5 L727.6 409.2 L723.9 411.1 L719.9 412.3 L718.2 416.7 L718.3 421.5 L713.7 425.3 L709.3 423 L704.5 421.5 L699.9 423.1 L695.3 424.6 L693 429.2 L692.2 433.2 L693.7 436.9 L693.6 440.5 L692.2 443.8 L688.2 444.4 L684.5 446.1 L680 447.5 L675.3 446.9 L671.9 448.4 L667.9 447.5 L664.5 449.2 L660.2 451.7 L655.3 453 L651 450.1 L646.1 448.4 L643.8 450.7 L646.1 456.8 L649.2 463 L652.3 467.6 L658.4 469.1 L664.5 466 L666.7 469.2 L669.2 472.2 L673 477.6 L670.7 481.4 L666.3 479.5 L661.5 479.1 L658 480.2 L654.4 481 L650.7 481.4 L646.9 482.3 L643 482.2 L641.5 486 L638 484.6 L634.3 484.8 L630.7 484.5 L627.2 482.3 L623 482.2 L619 483.2 L616.3 486.6 L612.3 487.6 L608.4 489.8 L604.6 492.2 L600 497 L600.9 501.3 L601.1 505.7 L600 510 L599.7 515.2 L597.5 520 L597.3 523.9 L598.8 527.5 L592.5 530 L588.4 531.4 L585 534 L584.7 538.3 L586 542.5 L585.2 546.4 L583.8 550 L581.6 553.6 L580 557.5 L578.7 561.1 L578.8 565 L579.7 569.3 L580 573.8 L577.4 576.8 L575 580 L573 583 L570 585 L565.9 584.7 L562.5 582.5 L557.6 584.3 L552.5 585 L549.3 586.8 L547.5 590 L545.5 593.7 L543.8 597.5 L547.5 602.5 L545 605 L540 604 L536.2 603.2 L532.5 604.6 L528.8 605.3 L525 605 L519.8 605.6 L515 607.5 L512.6 610.5 L512.7 614.7 L510 617.5 L506 619.7 L502.5 622.5 L498.2 620.8 L495 617.5 L491.7 614.3 L490 610 L490.3 606.1 L487.7 602.7 L487.5 598.9 L487.5 595 L486 589.9 L482.5 586 L477.5 590 L473.3 590.1 L469.2 589.8 L464.9 586.9 L462 582.6 L459.5 585.6 L456.4 587.9 L453 589.8 L449.1 591.1 L445.8 593.4 L446.7 598.8 L447.9 602.3 L446.3 606.1 L447.6 609.6 L448.8 614 L449.4 618.6 L449.2 623.3 L451.2 627.6 L449.4 629.4 L445.9 632.4 L444 636.6 L442.2 641 L438.8 642.9 L435 643.8 L431.5 645.3 L427.8 645.6 L425.1 650.1 L422.4 654.6 L417 656.4 L413.2 656.4 L409.8 654.6 L409.3 650.9 L408 647.4 L406 644.1 L406.2 640.2 L400.8 638.4 L397.2 642 L397.4 645.9 L395.4 649.2 L397.3 652.7 L400.8 654.6 L403.5 660 L400.8 666.3 L395.4 670 L390 673.5 L384.6 670.8 L379.2 667.2 L373.8 665.4 L372 661.8 L367.5 662.7 L363 662.7 L358.5 663.4 L354 664.5 L349.5 666 L345 667.2 L340.5 668 L336 668 L331.9 670.8 L327 671.7 L326.1 668.1 L323.4 665.4 L323.6 660.7 L321.6 656.4 L319.8 652.1 L316.2 649.2 L313.6 646 L312.6 642 L309 638.4 L305.5 635.9 L303.2 632.2 L300 629.4 L297 625.1 L292.5 622.5 L289.9 624.9 L287.5 627.5 L284 628.8 L280.7 630.5 L277.5 632.5 L274.5 635.5 L270.8 637.4 L267.5 640 L263.9 642.9 L260.2 645.5 L256 647.5 L253.6 650.8 L250 652.5 L247.9 656.5 L245 660 L242.6 664.7 L242.5 670 L239.2 671.8 L235.7 673 L232.5 675 L228.1 677.2 L224 680 L220.1 678 L215.7 678.3 L211.5 677.5 L207.5 676 L203.4 677.3 L199.3 678.3 L195 678.8 L195 675 L195 670.7 L194.3 666.5 L192.5 662.5 L190.3 659 L189 655 L187.9 650.1 L187.5 645 L191 640 L189.9 636.6 L188.8 633.3 L187.5 630 L185.2 627.3 L182.1 625.4 L180 622.5 L176.3 622.4 L173.1 620.7 L170 619 L164.7 618.5 L160 616 L155 612.5 L150.5 611.1 L146 610 L142.3 611 L138.7 611 L135 610 L133.3 606.1 L131 602.5 L127.8 600.4 L125.8 597 L122.5 595 L120 592.5 L117.5 590 L115.8 585.1 L112.5 581 L108.3 579.2 L105 576 L101.3 574.2 L97.5 572.5 L96.9 568.1Z" fill="none" stroke="#333" stroke-width="2.9" stroke-linejoin="round"/>
<rect x="75" y="100" width="885" height="600.8" fill="none" stroke="#333" stroke-width="2" stroke-linejoin="round"/>
<path d="M151 701V709.5 M328.5 701V709.5 M506 701V709.5 M683.5 701V709.5 M861 701V709.5 M66 145.5H75 M66 350.5H75 M66 555H75" stroke="#333" stroke-width="2" fill="none"/>
<text x="153.8" y="724.3" text-anchor="middle" font-family="Liberation Sans, sans-serif" font-weight="bold" font-size="14" fill="#333">118.5E</text>
<text x="331.3" y="724.3" text-anchor="middle" font-family="Liberation Sans, sans-serif" font-weight="bold" font-size="14" fill="#333">119E</text>
<text x="508.8" y="724.3" text-anchor="middle" font-family="Liberation Sans, sans-serif" font-weight="bold" font-size="14" fill="#333">119.5E</text>
<text x="686.3" y="724.3" text-anchor="middle" font-family="Liberation Sans, sans-serif" font-weight="bold" font-size="14" fill="#333">120E</text>
<text x="863.8" y="724.3" text-anchor="middle" font-family="Liberation Sans, sans-serif" font-weight="bold" font-size="14" fill="#333">120.5E</text>
<text x="60.8" y="151.3" text-anchor="end" font-family="Liberation Sans, sans-serif" font-weight="bold" font-size="14" fill="#333">30.5N</text>
<text x="60.8" y="356.3" text-anchor="end" font-family="Liberation Sans, sans-serif" font-weight="bold" font-size="14" fill="#333">30N</text>
<text x="60.8" y="560.8" text-anchor="end" font-family="Liberation Sans, sans-serif" font-weight="bold" font-size="14" fill="#333">29.5N</text>
<rect x="868.5" y="459.5" width="37" height="32" fill="#800040" stroke="#333" stroke-width="1"/>
<text x="911" y="498" font-family="Liberation Sans, sans-serif" font-size="18" fill="#333">250</text>
<rect x="868.5" y="491.5" width="37" height="32" fill="#fa00fa" stroke="#333" stroke-width="1"/>
<text x="911" y="530" font-family="Liberation Sans, sans-serif" font-size="18" fill="#333">100</text>
<rect x="868.5" y="523.5" width="37" height="32" fill="#0000e1" stroke="#333" stroke-width="1"/>
<text x="911" y="562" font-family="Liberation Sans, sans-serif" font-size="18" fill="#333">50</text>
<rect x="868.5" y="555.5" width="37" height="32" fill="#61b8ff" stroke="#333" stroke-width="1"/>
<text x="911" y="594" font-family="Liberation Sans, sans-serif" font-size="18" fill="#333">25</text>
<rect x="868.5" y="587.5" width="37" height="32" fill="#3dba3d" stroke="#333" stroke-width="1"/>
<text x="911" y="626" font-family="Liberation Sans, sans-serif" font-size="18" fill="#333">10</text>
<rect x="868.5" y="619.5" width="37" height="32" fill="#a6f28f" stroke="#333" stroke-width="1"/>
<text x="911" y="658" font-family="Liberation Sans, sans-serif" font-size="18" fill="#333">0.1</text>
<text x="868" y="677.5" font-family="Liberation Sans, sans-serif" font-size="18" fill="#333">mm</text>
</svg>
<div class="t1">杭州市24小时降水实况（单位：mm）</div>
<div class="t2">2025年09月13日08时-2025年09月14日08时</div>
<div class="lb" style="left:720px;top:159px"><span>临平区</span></div>
<div class="lb" style="left:600px;top:182px"><span>余杭区</span></div>
<div class="lb" style="left:689.4px;top:193px"><span>拱墅区</span></div>
<div class="lb" style="left:825.6px;top:202px"><span>钱塘区</span></div>
<div class="lb" style="left:712.8px;top:213.6px"><span>上城区</span></div>
<div class="lb" style="left:401px;top:256px"><span>临安区</span></div>
<div class="lb" style="left:658.8px;top:248.4px"><span>西湖区</span></div>
<div class="lb" style="left:696.6px;top:262.8px"><span>滨江区</span></div>
<div class="lb" style="left:714.6px;top:296.4px"><span>萧山区</span></div>
<div class="lb" style="left:580px;top:333px"><span>富阳区</span></div>
<div class="lb" style="left:478px;top:407px"><span>桐庐县</span></div>
<div class="lb" style="left:232px;top:487px"><span>淳安县</span></div>
<div class="lb" style="left:422px;top:530px"><span>建德市</span></div>
</body></html>
